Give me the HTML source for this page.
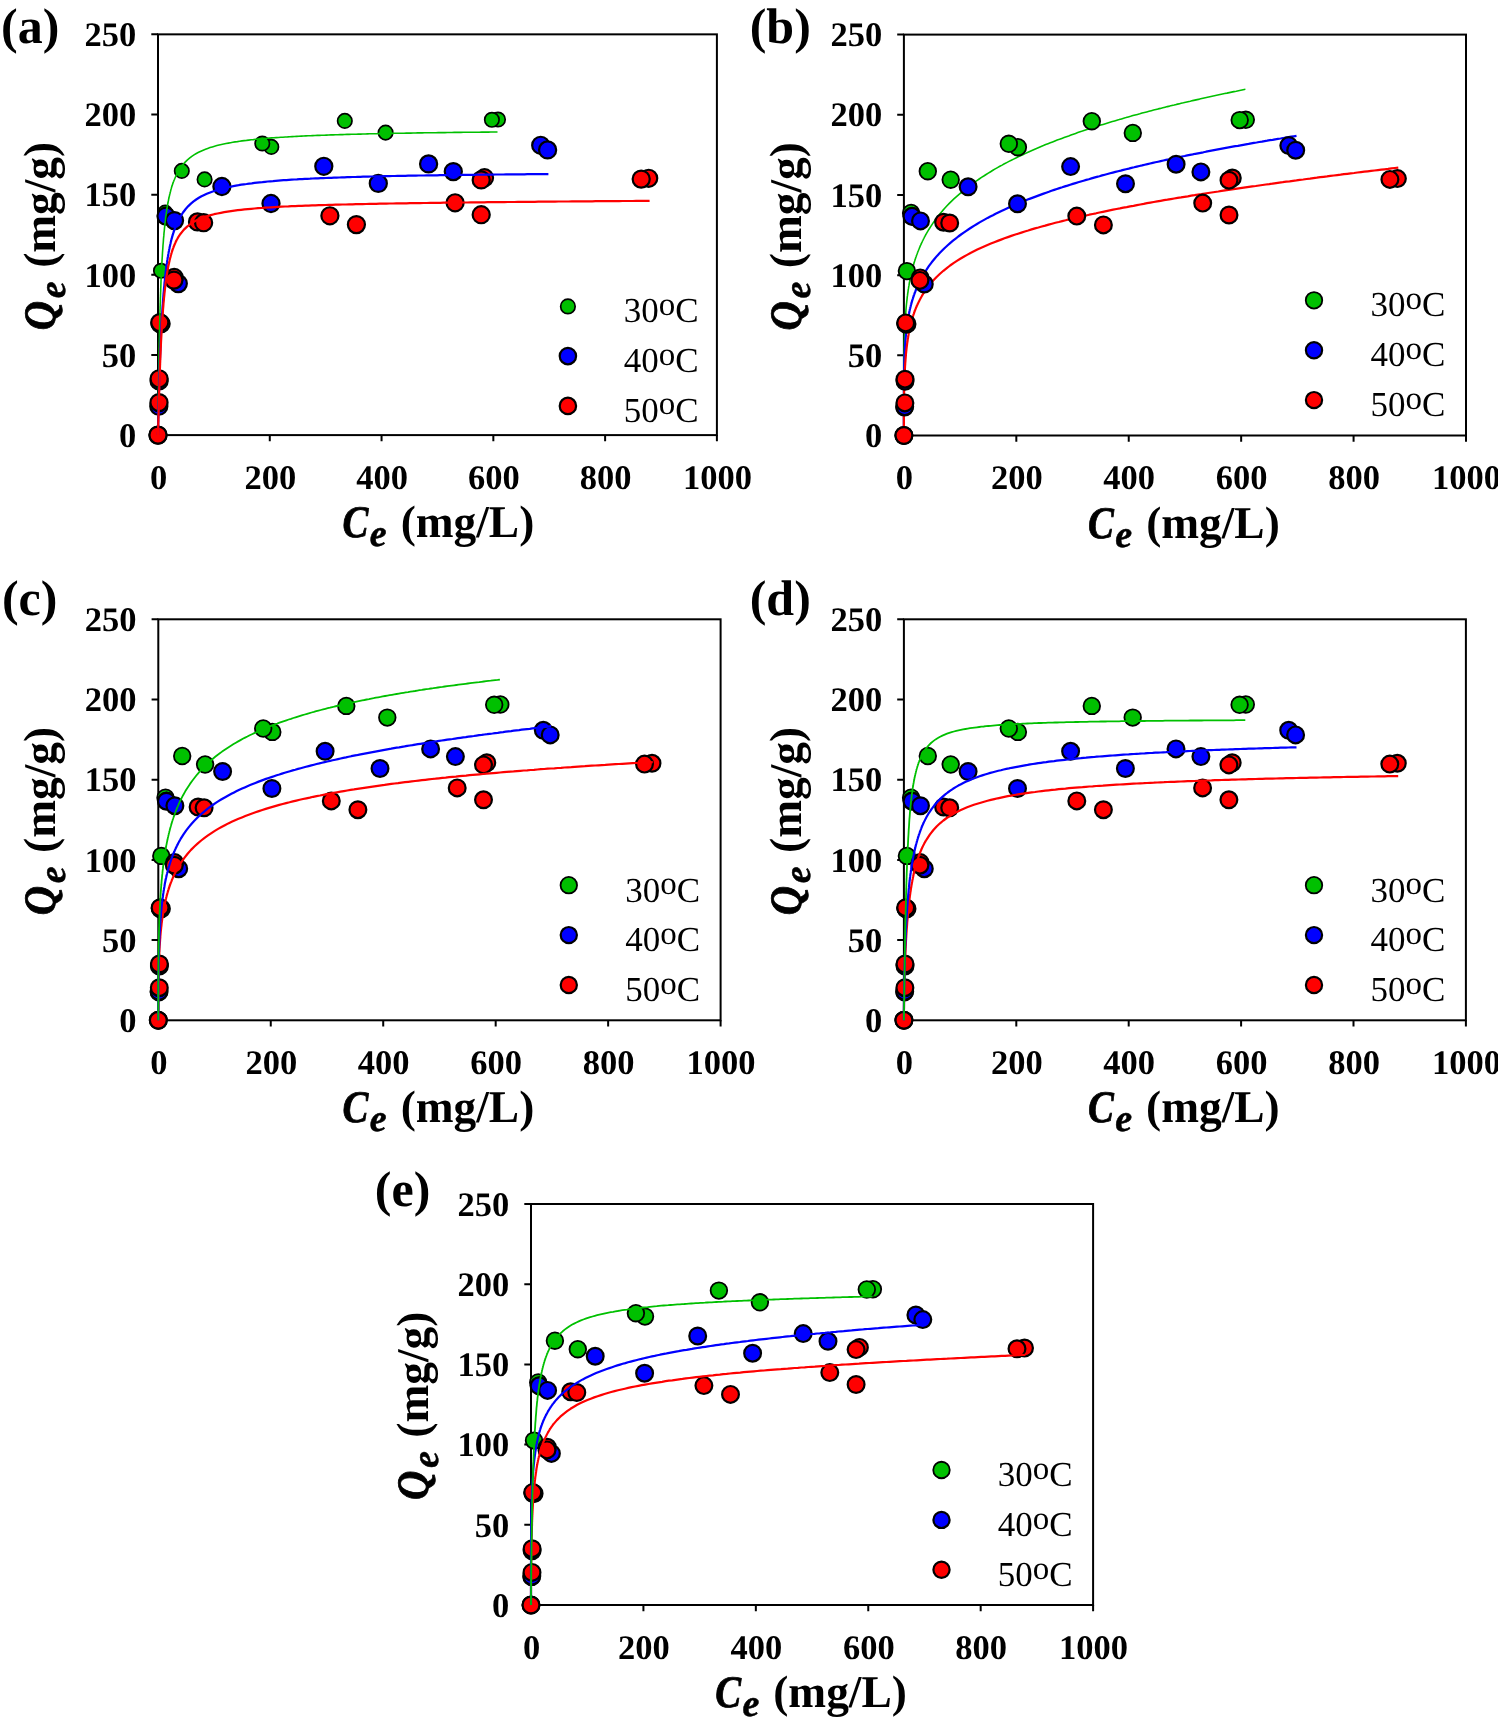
<!DOCTYPE html>
<html><head><meta charset="utf-8"><title>Isotherms</title>
<style>html,body{margin:0;padding:0;background:#fff;} svg{display:block;will-change:transform;}</style></head>
<body><svg width="1498" height="1720" viewBox="0 0 1498 1720" text-rendering="geometricPrecision">
<rect width="1498" height="1720" fill="#fff"/>
<rect x="158" y="34.35" width="558.9" height="400.75" fill="none" stroke="#000" stroke-width="2"/>
<path d="M151.3 435.1H158 M151.3 354.95H158 M151.3 274.8H158 M151.3 194.65H158 M151.3 114.5H158 M151.3 34.35H158 M158 435.1V441.3 M269.78 435.1V441.3 M381.56 435.1V441.3 M493.34 435.1V441.3 M605.12 435.1V441.3 M716.9 435.1V441.3" stroke="#000" stroke-width="2" fill="none"/>
<g font-family="&quot;Liberation Serif&quot;, serif" font-weight="bold" font-size="34.5"><text x="136.3" y="446.8" text-anchor="end">0</text><text x="136.3" y="366.65" text-anchor="end">50</text><text x="136.3" y="286.5" text-anchor="end">100</text><text x="136.3" y="206.35" text-anchor="end">150</text><text x="136.3" y="126.2" text-anchor="end">200</text><text x="136.3" y="46.05" text-anchor="end">250</text><text x="158.5" y="489" text-anchor="middle">0</text><text x="270.28" y="489" text-anchor="middle">200</text><text x="382.06" y="489" text-anchor="middle">400</text><text x="493.84" y="489" text-anchor="middle">600</text><text x="605.62" y="489" text-anchor="middle">800</text><text x="717.4" y="489" text-anchor="middle">1000</text></g>
<g font-family="&quot;Liberation Serif&quot;, serif" font-weight="bold"><text transform="translate(342.55,537.1) scale(0.86,1)" font-style="italic" font-size="45" stroke="#000" stroke-width="0.8">C</text><text x="369.85" y="546.1" font-style="italic" font-size="38" stroke="#000" stroke-width="0.5">e</text><text x="534.25" y="537.1" font-size="45.4" text-anchor="end">(mg/L)</text></g>
<g transform="translate(55,236.23) rotate(-90)" font-family="&quot;Liberation Serif&quot;, serif" font-weight="bold"><text transform="translate(-94,0) scale(0.9,1)" font-style="italic" font-size="45" stroke="#000" stroke-width="0.8">Q</text><text x="-62" y="9.5" font-style="italic" font-size="38" stroke="#000" stroke-width="0.5">e</text><text x="94.4" y="0" font-size="45.4" text-anchor="end">(mg/g)</text></g>
<text x="1.1" y="42.6" font-family="&quot;Liberation Serif&quot;, serif" font-weight="bold" font-size="50">(a)</text>
<circle cx="567.9" cy="306.4" r="7.25" fill="#00c000" stroke="#000" stroke-width="1.7"/>
<text x="698.6" y="322.1" text-anchor="end" font-family="&quot;Liberation Serif&quot;, serif" font-size="35">30<tspan font-size="33" dy="-7.3">o</tspan><tspan dy="7.3">C</tspan></text>
<circle cx="567.9" cy="356.1" r="8.2" fill="#0000ff" stroke="#000" stroke-width="2.2"/>
<text x="698.6" y="371.8" text-anchor="end" font-family="&quot;Liberation Serif&quot;, serif" font-size="35">40<tspan font-size="33" dy="-7.3">o</tspan><tspan dy="7.3">C</tspan></text>
<circle cx="567.9" cy="405.9" r="8.2" fill="#ff0000" stroke="#000" stroke-width="2.2"/>
<text x="698.6" y="421.6" text-anchor="end" font-family="&quot;Liberation Serif&quot;, serif" font-size="35">50<tspan font-size="33" dy="-7.3">o</tspan><tspan dy="7.3">C</tspan></text>
<circle cx="158.0" cy="435.1" r="7.2" fill="#00c000" stroke="#000" stroke-width="1.7"/>
<circle cx="158.6" cy="407.0" r="7.2" fill="#00c000" stroke="#000" stroke-width="1.7"/>
<circle cx="159.0" cy="379.8" r="7.2" fill="#00c000" stroke="#000" stroke-width="1.7"/>
<circle cx="159.7" cy="322.9" r="7.2" fill="#00c000" stroke="#000" stroke-width="1.7"/>
<circle cx="161.0" cy="270.8" r="7.2" fill="#00c000" stroke="#000" stroke-width="1.7"/>
<circle cx="165.2" cy="212.6" r="7.2" fill="#00c000" stroke="#000" stroke-width="1.7"/>
<circle cx="166.1" cy="215.6" r="7.2" fill="#00c000" stroke="#000" stroke-width="1.7"/>
<circle cx="181.8" cy="170.9" r="7.2" fill="#00c000" stroke="#000" stroke-width="1.7"/>
<circle cx="204.6" cy="179.4" r="7.2" fill="#00c000" stroke="#000" stroke-width="1.7"/>
<circle cx="271.3" cy="146.9" r="7.2" fill="#00c000" stroke="#000" stroke-width="1.7"/>
<circle cx="262.3" cy="143.5" r="7.2" fill="#00c000" stroke="#000" stroke-width="1.7"/>
<circle cx="344.8" cy="120.9" r="7.2" fill="#00c000" stroke="#000" stroke-width="1.7"/>
<circle cx="385.6" cy="132.6" r="7.2" fill="#00c000" stroke="#000" stroke-width="1.7"/>
<circle cx="498.0" cy="119.5" r="7.2" fill="#00c000" stroke="#000" stroke-width="1.7"/>
<circle cx="491.9" cy="119.8" r="7.2" fill="#00c000" stroke="#000" stroke-width="1.7"/>
<circle cx="158.0" cy="435.1" r="8.55" fill="#0000ff" stroke="#000" stroke-width="2.2"/>
<circle cx="158.8" cy="406.2" r="8.55" fill="#0000ff" stroke="#000" stroke-width="2.2"/>
<circle cx="159.1" cy="380.9" r="8.55" fill="#0000ff" stroke="#000" stroke-width="2.2"/>
<circle cx="160.0" cy="323.7" r="8.55" fill="#0000ff" stroke="#000" stroke-width="2.2"/>
<circle cx="166.0" cy="216.1" r="8.55" fill="#0000ff" stroke="#000" stroke-width="2.2"/>
<circle cx="174.5" cy="220.6" r="8.55" fill="#0000ff" stroke="#000" stroke-width="2.2"/>
<circle cx="178.3" cy="283.6" r="8.55" fill="#0000ff" stroke="#000" stroke-width="2.2"/>
<circle cx="221.9" cy="186.5" r="8.55" fill="#0000ff" stroke="#000" stroke-width="2.2"/>
<circle cx="271.0" cy="203.5" r="8.55" fill="#0000ff" stroke="#000" stroke-width="2.2"/>
<circle cx="323.8" cy="166.3" r="8.55" fill="#0000ff" stroke="#000" stroke-width="2.2"/>
<circle cx="378.3" cy="183.4" r="8.55" fill="#0000ff" stroke="#000" stroke-width="2.2"/>
<circle cx="428.6" cy="163.9" r="8.55" fill="#0000ff" stroke="#000" stroke-width="2.2"/>
<circle cx="453.3" cy="171.6" r="8.55" fill="#0000ff" stroke="#000" stroke-width="2.2"/>
<circle cx="540.7" cy="145.3" r="8.55" fill="#0000ff" stroke="#000" stroke-width="2.2"/>
<circle cx="547.6" cy="149.9" r="8.55" fill="#0000ff" stroke="#000" stroke-width="2.2"/>
<circle cx="158.0" cy="435.1" r="8.55" fill="#ff0000" stroke="#000" stroke-width="2.2"/>
<circle cx="159.0" cy="402.6" r="8.55" fill="#ff0000" stroke="#000" stroke-width="2.2"/>
<circle cx="159.1" cy="378.8" r="8.55" fill="#ff0000" stroke="#000" stroke-width="2.2"/>
<circle cx="161.1" cy="323.7" r="8.55" fill="#ff0000" stroke="#000" stroke-width="2.2"/>
<circle cx="159.8" cy="322.6" r="8.55" fill="#ff0000" stroke="#000" stroke-width="2.2"/>
<circle cx="174.2" cy="277.5" r="8.55" fill="#ff0000" stroke="#000" stroke-width="2.2"/>
<circle cx="173.9" cy="280.1" r="8.55" fill="#ff0000" stroke="#000" stroke-width="2.2"/>
<circle cx="197.5" cy="221.9" r="8.55" fill="#ff0000" stroke="#000" stroke-width="2.2"/>
<circle cx="203.6" cy="222.7" r="8.55" fill="#ff0000" stroke="#000" stroke-width="2.2"/>
<circle cx="329.9" cy="215.8" r="8.55" fill="#ff0000" stroke="#000" stroke-width="2.2"/>
<circle cx="356.4" cy="224.6" r="8.55" fill="#ff0000" stroke="#000" stroke-width="2.2"/>
<circle cx="455.1" cy="202.8" r="8.55" fill="#ff0000" stroke="#000" stroke-width="2.2"/>
<circle cx="481.2" cy="214.7" r="8.55" fill="#ff0000" stroke="#000" stroke-width="2.2"/>
<circle cx="484.5" cy="177.7" r="8.55" fill="#ff0000" stroke="#000" stroke-width="2.2"/>
<circle cx="481.2" cy="179.9" r="8.55" fill="#ff0000" stroke="#000" stroke-width="2.2"/>
<circle cx="648.7" cy="178.3" r="8.55" fill="#ff0000" stroke="#000" stroke-width="2.2"/>
<circle cx="641.2" cy="179.1" r="8.55" fill="#ff0000" stroke="#000" stroke-width="2.2"/>
<polyline points="158.0,435.1 158.0,429.4 158.1,424.2 158.1,419.3 158.2,414.7 158.2,410.2 158.3,406.0 158.3,401.9 158.4,397.9 158.4,394.0 158.5,390.3 158.5,386.8 158.6,383.3 158.6,379.9 158.7,376.6 158.7,373.4 158.8,370.4 158.8,367.4 158.9,364.4 158.9,361.6 158.9,358.8 159.0,356.1 159.0,353.5 159.1,350.9 159.1,348.4 159.2,346.0 159.2,343.6 159.3,341.3 159.3,339.0 159.4,336.8 159.4,334.6 159.5,332.5 159.5,330.4 159.6,328.4 159.6,326.4 159.7,324.4 159.7,322.5 159.8,320.6 159.8,318.8 159.8,317.0 159.9,315.3 159.9,313.5 160.0,311.9 160.0,310.2 160.1,308.6 160.1,307.0 160.2,305.4 160.2,303.9 160.3,302.4 160.3,300.9 160.4,299.4 160.4,298.0 160.5,296.6 160.5,295.2 160.6,293.8 160.6,292.5 160.7,291.2 160.7,289.9 160.7,288.6 160.8,287.4 160.8,287.4 161.0,281.2 161.3,275.5 161.5,270.2 161.8,265.3 162.0,260.7 162.3,256.5 162.5,252.5 162.8,248.8 163.0,245.2 163.3,242.0 163.5,238.8 163.8,235.9 164.0,233.1 164.3,230.5 164.5,228.0 164.8,225.6 165.0,223.3 165.3,221.2 165.5,219.1 165.7,217.2 166.0,215.3 166.2,213.5 166.5,211.8 166.7,210.1 167.0,208.5 167.2,207.0 167.5,205.5 167.7,204.1 168.0,202.8 168.2,201.5 168.5,200.2 168.7,199.0 169.0,197.8 169.2,196.7 169.5,195.6 169.7,194.5 170.0,193.5 170.2,192.5 170.5,191.5 170.7,190.6 170.9,189.7 171.2,188.8 171.4,188.0 171.7,187.1 171.9,186.3 172.2,185.6 172.4,184.8 172.7,184.1 172.9,183.3 173.2,182.6 173.4,181.9 173.7,181.3 173.9,180.6 174.2,180.0 174.4,179.4 174.7,178.8 174.9,178.2 175.2,177.6 175.4,177.1 175.7,176.5 175.9,176.0 176.1,175.5 176.4,174.9 176.6,174.4 176.9,174.0 177.1,173.5 177.4,173.0 177.6,172.6 177.9,172.1 178.1,171.7 178.4,171.2 178.6,170.8 178.9,170.4 179.1,170.0 179.4,169.6 179.6,169.2 179.9,168.8 180.1,168.5 180.4,168.1 180.4,168.1 182.6,165.0 184.9,162.4 187.2,160.1 189.5,158.2 191.8,156.4 194.0,154.9 196.3,153.5 198.6,152.3 200.9,151.2 203.2,150.2 205.5,149.2 207.7,148.4 210.0,147.6 212.3,146.9 214.6,146.2 216.9,145.6 219.1,145.0 221.4,144.5 223.7,144.0 226.0,143.5 228.3,143.1 230.6,142.7 232.8,142.3 235.1,141.9 237.4,141.6 239.7,141.2 242.0,140.9 244.2,140.6 246.5,140.4 248.8,140.1 251.1,139.8 253.4,139.6 255.7,139.3 257.9,139.1 260.2,138.9 262.5,138.7 264.8,138.5 267.1,138.3 269.3,138.1 271.6,137.9 273.9,137.8 276.2,137.6 278.5,137.5 280.8,137.3 283.0,137.2 285.3,137.0 287.6,136.9 289.9,136.7 292.2,136.6 294.4,136.5 296.7,136.4 299.0,136.3 301.3,136.1 303.6,136.0 305.9,135.9 308.1,135.8 310.4,135.7 312.7,135.6 315.0,135.5 317.3,135.4 319.5,135.4 321.8,135.3 324.1,135.2 326.4,135.1 328.7,135.0 331.0,134.9 333.2,134.9 335.5,134.8 337.8,134.7 340.1,134.6 342.4,134.6 344.6,134.5 346.9,134.4 349.2,134.4 351.5,134.3 353.8,134.2 356.1,134.2 358.3,134.1 360.6,134.1 362.9,134.0 365.2,134.0 367.5,133.9 369.7,133.8 372.0,133.8 374.3,133.7 376.6,133.7 378.9,133.6 381.2,133.6 383.4,133.6 385.7,133.5 388.0,133.5 390.3,133.4 392.6,133.4 394.8,133.3 397.1,133.3 399.4,133.2 401.7,133.2 404.0,133.2 406.3,133.1 408.5,133.1 410.8,133.1 413.1,133.0 415.4,133.0 417.7,132.9 419.9,132.9 422.2,132.9 424.5,132.8 426.8,132.8 429.1,132.8 431.4,132.7 433.6,132.7 435.9,132.7 438.2,132.6 440.5,132.6 442.8,132.6 445.0,132.6 447.3,132.5 449.6,132.5 451.9,132.5 454.2,132.4 456.5,132.4 458.7,132.4 461.0,132.4 463.3,132.3 465.6,132.3 467.9,132.3 470.1,132.3 472.4,132.2 474.7,132.2 477.0,132.2 479.3,132.2 481.6,132.1 483.8,132.1 486.1,132.1 488.4,132.1 490.7,132.0 493.0,132.0 495.2,132.0 497.5,132.0" fill="none" stroke="#00c000" stroke-width="1.6" stroke-linejoin="round"/>
<polyline points="158.0,435.1 158.0,432.8 158.1,430.4 158.1,428.1 158.2,425.8 158.2,423.5 158.3,421.3 158.3,419.1 158.4,416.9 158.4,414.7 158.5,412.6 158.5,410.5 158.6,408.4 158.6,406.4 158.7,404.4 158.7,402.5 158.8,400.5 158.8,398.6 158.9,396.7 158.9,394.9 158.9,393.1 159.0,391.3 159.0,389.5 159.1,387.8 159.1,386.1 159.2,384.4 159.2,382.7 159.3,381.1 159.3,379.4 159.4,377.9 159.4,376.3 159.5,374.7 159.5,373.2 159.6,371.7 159.6,370.2 159.7,368.8 159.7,367.3 159.8,365.9 159.8,364.5 159.8,363.1 159.9,361.8 159.9,360.4 160.0,359.1 160.0,357.8 160.1,356.5 160.1,355.2 160.2,354.0 160.2,352.7 160.3,351.5 160.3,350.3 160.4,349.1 160.4,347.9 160.5,346.7 160.5,345.6 160.6,344.5 160.6,343.3 160.7,342.2 160.7,341.1 160.7,340.1 160.8,339.0 160.8,339.0 161.0,333.6 161.3,328.6 161.5,323.8 161.8,319.4 162.0,315.1 162.3,311.1 162.5,307.4 162.8,303.8 163.0,300.4 163.3,297.1 163.5,294.0 163.8,291.1 164.0,288.3 164.3,285.6 164.5,283.0 164.8,280.6 165.0,278.2 165.3,276.0 165.5,273.8 165.7,271.7 166.0,269.7 166.2,267.8 166.5,266.0 166.7,264.2 167.0,262.5 167.2,260.8 167.5,259.2 167.7,257.7 168.0,256.2 168.2,254.8 168.5,253.4 168.7,252.0 169.0,250.7 169.2,249.5 169.5,248.2 169.7,247.0 170.0,245.9 170.2,244.8 170.5,243.7 170.7,242.6 170.9,241.6 171.2,240.6 171.4,239.6 171.7,238.7 171.9,237.8 172.2,236.9 172.4,236.0 172.7,235.2 172.9,234.3 173.2,233.5 173.4,232.8 173.7,232.0 173.9,231.2 174.2,230.5 174.4,229.8 174.7,229.1 174.9,228.4 175.2,227.8 175.4,227.1 175.7,226.5 175.9,225.9 176.1,225.3 176.4,224.7 176.6,224.1 176.9,223.5 177.1,223.0 177.4,222.4 177.6,221.9 177.9,221.4 178.1,220.8 178.4,220.3 178.6,219.8 178.9,219.4 179.1,218.9 179.4,218.4 179.6,218.0 179.9,217.5 180.1,217.1 180.4,216.7 180.4,216.7 183.0,212.5 185.7,209.0 188.3,206.1 190.9,203.6 193.6,201.4 196.2,199.5 198.9,197.8 201.5,196.3 204.2,195.0 206.8,193.8 209.5,192.7 212.1,191.7 214.8,190.8 217.4,189.9 220.1,189.2 222.7,188.5 225.4,187.8 228.0,187.2 230.7,186.7 233.3,186.1 236.0,185.6 238.6,185.2 241.3,184.7 243.9,184.3 246.5,184.0 249.2,183.6 251.8,183.3 254.5,182.9 257.1,182.6 259.8,182.3 262.4,182.1 265.1,181.8 267.7,181.5 270.4,181.3 273.0,181.1 275.7,180.8 278.3,180.6 281.0,180.4 283.6,180.2 286.3,180.1 288.9,179.9 291.6,179.7 294.2,179.5 296.9,179.4 299.5,179.2 302.2,179.1 304.8,178.9 307.4,178.8 310.1,178.7 312.7,178.5 315.4,178.4 318.0,178.3 320.7,178.2 323.3,178.1 326.0,178.0 328.6,177.9 331.3,177.8 333.9,177.7 336.6,177.6 339.2,177.5 341.9,177.4 344.5,177.3 347.2,177.2 349.8,177.1 352.5,177.0 355.1,177.0 357.8,176.9 360.4,176.8 363.0,176.7 365.7,176.7 368.3,176.6 371.0,176.5 373.6,176.5 376.3,176.4 378.9,176.3 381.6,176.3 384.2,176.2 386.9,176.2 389.5,176.1 392.2,176.0 394.8,176.0 397.5,175.9 400.1,175.9 402.8,175.8 405.4,175.8 408.1,175.7 410.7,175.7 413.4,175.6 416.0,175.6 418.7,175.5 421.3,175.5 423.9,175.5 426.6,175.4 429.2,175.4 431.9,175.3 434.5,175.3 437.2,175.3 439.8,175.2 442.5,175.2 445.1,175.1 447.8,175.1 450.4,175.1 453.1,175.0 455.7,175.0 458.4,175.0 461.0,174.9 463.7,174.9 466.3,174.9 469.0,174.8 471.6,174.8 474.3,174.8 476.9,174.7 479.6,174.7 482.2,174.7 484.8,174.7 487.5,174.6 490.1,174.6 492.8,174.6 495.4,174.5 498.1,174.5 500.7,174.5 503.4,174.5 506.0,174.4 508.7,174.4 511.3,174.4 514.0,174.4 516.6,174.3 519.3,174.3 521.9,174.3 524.6,174.3 527.2,174.2 529.9,174.2 532.5,174.2 535.2,174.2 537.8,174.2 540.4,174.1 543.1,174.1 545.7,174.1 548.4,174.1" fill="none" stroke="#0000ff" stroke-width="2.2" stroke-linejoin="round"/>
<polyline points="158.0,435.1 158.0,433.7 158.1,432.0 158.1,430.3 158.2,428.5 158.2,426.7 158.3,424.8 158.3,423.0 158.4,421.1 158.4,419.3 158.5,417.5 158.5,415.6 158.6,413.8 158.6,412.0 158.7,410.2 158.7,408.4 158.8,406.7 158.8,404.9 158.9,403.2 158.9,401.5 158.9,399.8 159.0,398.1 159.0,396.5 159.1,394.8 159.1,393.2 159.2,391.6 159.2,390.0 159.3,388.4 159.3,386.9 159.4,385.4 159.4,383.9 159.5,382.4 159.5,380.9 159.6,379.5 159.6,378.0 159.7,376.6 159.7,375.2 159.8,373.8 159.8,372.5 159.8,371.1 159.9,369.8 159.9,368.5 160.0,367.2 160.0,365.9 160.1,364.6 160.1,363.4 160.2,362.1 160.2,360.9 160.3,359.7 160.3,358.5 160.4,357.4 160.4,356.2 160.5,355.0 160.5,353.9 160.6,352.8 160.6,351.7 160.7,350.6 160.7,349.5 160.7,348.5 160.8,347.4 160.8,347.4 161.0,342.1 161.3,337.2 161.5,332.5 161.8,328.1 162.0,324.0 162.3,320.1 162.5,316.4 162.8,312.9 163.0,309.6 163.3,306.5 163.5,303.5 163.8,300.7 164.0,298.0 164.3,295.4 164.5,293.0 164.8,290.7 165.0,288.5 165.3,286.4 165.5,284.3 165.7,282.4 166.0,280.5 166.2,278.8 166.5,277.1 166.7,275.4 167.0,273.8 167.2,272.3 167.5,270.9 167.7,269.5 168.0,268.1 168.2,266.8 168.5,265.6 168.7,264.4 169.0,263.2 169.2,262.1 169.5,261.0 169.7,259.9 170.0,258.9 170.2,257.9 170.5,257.0 170.7,256.0 170.9,255.1 171.2,254.3 171.4,253.4 171.7,252.6 171.9,251.8 172.2,251.0 172.4,250.3 172.7,249.5 172.9,248.8 173.2,248.1 173.4,247.5 173.7,246.8 173.9,246.2 174.2,245.6 174.4,244.9 174.7,244.4 174.9,243.8 175.2,243.2 175.4,242.7 175.7,242.1 175.9,241.6 176.1,241.1 176.4,240.6 176.6,240.1 176.9,239.7 177.1,239.2 177.4,238.7 177.6,238.3 177.9,237.9 178.1,237.4 178.4,237.0 178.6,236.6 178.9,236.2 179.1,235.8 179.4,235.5 179.6,235.1 179.9,234.7 180.1,234.4 180.4,234.0 180.4,234.0 183.7,229.9 187.1,226.6 190.5,224.0 193.9,221.8 197.2,220.0 200.6,218.5 204.0,217.2 207.4,216.1 210.7,215.1 214.1,214.2 217.5,213.5 220.9,212.8 224.2,212.2 227.6,211.6 231.0,211.1 234.4,210.6 237.7,210.2 241.1,209.8 244.5,209.4 247.9,209.1 251.2,208.8 254.6,208.5 258.0,208.2 261.4,208.0 264.7,207.7 268.1,207.5 271.5,207.3 274.9,207.1 278.2,206.9 281.6,206.7 285.0,206.5 288.4,206.4 291.7,206.2 295.1,206.1 298.5,205.9 301.9,205.8 305.3,205.7 308.6,205.6 312.0,205.4 315.4,205.3 318.8,205.2 322.1,205.1 325.5,205.0 328.9,204.9 332.3,204.8 335.6,204.7 339.0,204.6 342.4,204.5 345.8,204.5 349.1,204.4 352.5,204.3 355.9,204.2 359.3,204.1 362.6,204.1 366.0,204.0 369.4,203.9 372.8,203.9 376.1,203.8 379.5,203.7 382.9,203.7 386.3,203.6 389.6,203.5 393.0,203.5 396.4,203.4 399.8,203.4 403.1,203.3 406.5,203.3 409.9,203.2 413.3,203.2 416.6,203.1 420.0,203.1 423.4,203.0 426.8,203.0 430.1,202.9 433.5,202.9 436.9,202.8 440.3,202.8 443.6,202.7 447.0,202.7 450.4,202.7 453.8,202.6 457.1,202.6 460.5,202.5 463.9,202.5 467.3,202.5 470.7,202.4 474.0,202.4 477.4,202.3 480.8,202.3 484.2,202.3 487.5,202.2 490.9,202.2 494.3,202.2 497.7,202.1 501.0,202.1 504.4,202.1 507.8,202.0 511.2,202.0 514.5,202.0 517.9,201.9 521.3,201.9 524.7,201.9 528.0,201.8 531.4,201.8 534.8,201.8 538.2,201.7 541.5,201.7 544.9,201.7 548.3,201.6 551.7,201.6 555.0,201.6 558.4,201.5 561.8,201.5 565.2,201.5 568.5,201.5 571.9,201.4 575.3,201.4 578.7,201.4 582.0,201.3 585.4,201.3 588.8,201.3 592.2,201.3 595.5,201.2 598.9,201.2 602.3,201.2 605.7,201.2 609.0,201.1 612.4,201.1 615.8,201.1 619.2,201.1 622.5,201.0 625.9,201.0 629.3,201.0 632.7,201.0 636.1,200.9 639.4,200.9 642.8,200.9 646.2,200.9 649.6,200.8" fill="none" stroke="#ff0000" stroke-width="2.2" stroke-linejoin="round"/>
<rect x="903.9" y="34.6" width="562.1" height="400.9" fill="none" stroke="#000" stroke-width="2"/>
<path d="M897.2 435.5H903.9 M897.2 355.32H903.9 M897.2 275.14H903.9 M897.2 194.96H903.9 M897.2 114.78H903.9 M897.2 34.6H903.9 M903.9 435.5V441.7 M1016.32 435.5V441.7 M1128.74 435.5V441.7 M1241.16 435.5V441.7 M1353.58 435.5V441.7 M1466 435.5V441.7" stroke="#000" stroke-width="2" fill="none"/>
<g font-family="&quot;Liberation Serif&quot;, serif" font-weight="bold" font-size="34.5"><text x="882.2" y="447.2" text-anchor="end">0</text><text x="882.2" y="367.02" text-anchor="end">50</text><text x="882.2" y="286.84" text-anchor="end">100</text><text x="882.2" y="206.66" text-anchor="end">150</text><text x="882.2" y="126.48" text-anchor="end">200</text><text x="882.2" y="46.3" text-anchor="end">250</text><text x="904.4" y="489.4" text-anchor="middle">0</text><text x="1016.82" y="489.4" text-anchor="middle">200</text><text x="1129.24" y="489.4" text-anchor="middle">400</text><text x="1241.66" y="489.4" text-anchor="middle">600</text><text x="1354.08" y="489.4" text-anchor="middle">800</text><text x="1466.5" y="489.4" text-anchor="middle">1000</text></g>
<g font-family="&quot;Liberation Serif&quot;, serif" font-weight="bold"><text transform="translate(1088.05,537.5) scale(0.86,1)" font-style="italic" font-size="45" stroke="#000" stroke-width="0.8">C</text><text x="1115.35" y="546.5" font-style="italic" font-size="38" stroke="#000" stroke-width="0.5">e</text><text x="1279.75" y="537.5" font-size="45.4" text-anchor="end">(mg/L)</text></g>
<g transform="translate(800.9,236.55) rotate(-90)" font-family="&quot;Liberation Serif&quot;, serif" font-weight="bold"><text transform="translate(-94,0) scale(0.9,1)" font-style="italic" font-size="45" stroke="#000" stroke-width="0.8">Q</text><text x="-62" y="9.5" font-style="italic" font-size="38" stroke="#000" stroke-width="0.5">e</text><text x="94.4" y="0" font-size="45.4" text-anchor="end">(mg/g)</text></g>
<text x="749.7" y="43.3" font-family="&quot;Liberation Serif&quot;, serif" font-weight="bold" font-size="50">(b)</text>
<circle cx="1314" cy="300.3" r="8.25" fill="#00c000" stroke="#000" stroke-width="1.8"/>
<text x="1445.4" y="316.3" text-anchor="end" font-family="&quot;Liberation Serif&quot;, serif" font-size="35">30<tspan font-size="33" dy="-7.3">o</tspan><tspan dy="7.3">C</tspan></text>
<circle cx="1314" cy="350.3" r="8.1" fill="#0000ff" stroke="#000" stroke-width="2.2"/>
<text x="1445.4" y="366.3" text-anchor="end" font-family="&quot;Liberation Serif&quot;, serif" font-size="35">40<tspan font-size="33" dy="-7.3">o</tspan><tspan dy="7.3">C</tspan></text>
<circle cx="1314" cy="400.1" r="8.1" fill="#ff0000" stroke="#000" stroke-width="2.2"/>
<text x="1445.4" y="416.1" text-anchor="end" font-family="&quot;Liberation Serif&quot;, serif" font-size="35">50<tspan font-size="33" dy="-7.3">o</tspan><tspan dy="7.3">C</tspan></text>
<polyline points="903.9,435.1 903.9,376.0 904.0,367.2 904.0,361.5 904.1,357.1 904.1,353.6 904.2,350.6 904.2,347.9 904.3,345.6 904.3,343.4 904.4,341.5 904.4,339.7 904.5,338.0 904.5,336.5 904.6,335.0 904.6,333.6 904.7,332.3 904.7,331.1 904.8,329.9 904.8,328.7 904.9,327.6 904.9,326.6 904.9,325.6 905.0,324.6 905.0,323.7 905.1,322.8 905.1,321.9 905.2,321.0 905.2,320.2 905.3,319.4 905.3,318.6 905.4,317.9 905.4,317.1 905.5,316.4 905.5,315.7 905.6,315.0 905.6,314.3 905.7,313.7 905.7,313.0 905.8,312.4 905.8,311.8 905.9,311.1 905.9,310.6 905.9,310.0 906.0,309.4 906.0,308.8 906.1,308.3 906.1,307.7 906.2,307.2 906.2,306.7 906.3,306.2 906.3,305.6 906.4,305.1 906.4,304.7 906.5,304.2 906.5,303.7 906.6,303.2 906.6,302.8 906.7,302.3 906.7,301.8 906.7,301.8 907.0,299.6 907.2,297.4 907.5,295.4 907.7,293.6 908.0,291.8 908.2,290.0 908.5,288.4 908.7,286.9 909.0,285.4 909.2,283.9 909.4,282.5 909.7,281.2 909.9,279.9 910.2,278.7 910.4,277.4 910.7,276.3 910.9,275.1 911.2,274.0 911.4,272.9 911.7,271.9 911.9,270.9 912.2,269.9 912.4,268.9 912.7,267.9 912.9,267.0 913.2,266.1 913.4,265.2 913.7,264.3 913.9,263.5 914.2,262.6 914.4,261.8 914.7,261.0 914.9,260.2 915.2,259.4 915.4,258.7 915.7,257.9 915.9,257.2 916.2,256.5 916.4,255.7 916.7,255.0 916.9,254.4 917.2,253.7 917.4,253.0 917.7,252.3 917.9,251.7 918.2,251.0 918.4,250.4 918.7,249.8 918.9,249.2 919.2,248.6 919.4,248.0 919.7,247.4 919.9,246.8 920.2,246.2 920.4,245.6 920.7,245.1 920.9,244.5 921.2,244.0 921.4,243.4 921.7,242.9 921.9,242.3 922.2,241.8 922.4,241.3 922.6,240.8 922.9,240.3 923.1,239.8 923.4,239.3 923.6,238.8 923.9,238.3 924.1,237.8 924.4,237.3 924.6,236.8 924.9,236.4 925.1,235.9 925.4,235.4 925.6,235.0 925.9,234.5 926.1,234.1 926.4,233.6 926.4,233.6 928.7,229.7 931.0,226.1 933.3,222.6 935.6,219.4 937.9,216.4 940.2,213.6 942.4,210.9 944.7,208.3 947.0,205.8 949.3,203.4 951.6,201.1 953.9,198.9 956.2,196.8 958.5,194.8 960.8,192.8 963.1,190.9 965.4,189.1 967.7,187.3 970.0,185.5 972.3,183.8 974.6,182.2 976.9,180.6 979.2,179.0 981.5,177.4 983.8,176.0 986.1,174.5 988.3,173.1 990.6,171.7 992.9,170.3 995.2,168.9 997.5,167.6 999.8,166.3 1002.1,165.1 1004.4,163.8 1006.7,162.6 1009.0,161.4 1011.3,160.2 1013.6,159.1 1015.9,158.0 1018.2,156.8 1020.5,155.7 1022.8,154.7 1025.1,153.6 1027.4,152.5 1029.7,151.5 1031.9,150.5 1034.2,149.5 1036.5,148.5 1038.8,147.5 1041.1,146.5 1043.4,145.6 1045.7,144.6 1048.0,143.7 1050.3,142.8 1052.6,141.9 1054.9,141.0 1057.2,140.1 1059.5,139.3 1061.8,138.4 1064.1,137.5 1066.4,136.7 1068.7,135.9 1071.0,135.0 1073.3,134.2 1075.6,133.4 1077.8,132.6 1080.1,131.8 1082.4,131.1 1084.7,130.3 1087.0,129.5 1089.3,128.8 1091.6,128.0 1093.9,127.3 1096.2,126.5 1098.5,125.8 1100.8,125.1 1103.1,124.4 1105.4,123.7 1107.7,123.0 1110.0,122.3 1112.3,121.6 1114.6,120.9 1116.9,120.2 1119.2,119.6 1121.5,118.9 1123.7,118.2 1126.0,117.6 1128.3,116.9 1130.6,116.3 1132.9,115.6 1135.2,115.0 1137.5,114.4 1139.8,113.8 1142.1,113.1 1144.4,112.5 1146.7,111.9 1149.0,111.3 1151.3,110.7 1153.6,110.1 1155.9,109.5 1158.2,108.9 1160.5,108.4 1162.8,107.8 1165.1,107.2 1167.3,106.6 1169.6,106.1 1171.9,105.5 1174.2,105.0 1176.5,104.4 1178.8,103.9 1181.1,103.3 1183.4,102.8 1185.7,102.2 1188.0,101.7 1190.3,101.2 1192.6,100.6 1194.9,100.1 1197.2,99.6 1199.5,99.1 1201.8,98.5 1204.1,98.0 1206.4,97.5 1208.7,97.0 1211.0,96.5 1213.2,96.0 1215.5,95.5 1217.8,95.0 1220.1,94.5 1222.4,94.0 1224.7,93.5 1227.0,93.1 1229.3,92.6 1231.6,92.1 1233.9,91.6 1236.2,91.2 1238.5,90.7 1240.8,90.2 1243.1,89.7 1245.4,89.3" fill="none" stroke="#00c000" stroke-width="1.6" stroke-linejoin="round"/>
<polyline points="903.9,435.2 903.9,389.2 904.0,382.1 904.0,377.4 904.1,373.8 904.1,370.9 904.2,368.4 904.2,366.2 904.3,364.3 904.3,362.5 904.4,360.9 904.4,359.4 904.5,358.0 904.5,356.8 904.6,355.5 904.6,354.4 904.7,353.3 904.7,352.3 904.8,351.3 904.8,350.3 904.9,349.4 904.9,348.5 904.9,347.7 905.0,346.9 905.0,346.1 905.1,345.3 905.1,344.6 905.2,343.9 905.2,343.2 905.3,342.5 905.3,341.9 905.4,341.2 905.4,340.6 905.5,340.0 905.5,339.4 905.6,338.8 905.6,338.3 905.7,337.7 905.7,337.2 905.8,336.6 905.8,336.1 905.9,335.6 905.9,335.1 905.9,334.6 906.0,334.1 906.0,333.7 906.1,333.2 906.1,332.7 906.2,332.3 906.2,331.8 906.3,331.4 906.3,331.0 906.4,330.6 906.4,330.1 906.5,329.7 906.5,329.3 906.6,328.9 906.6,328.5 906.7,328.2 906.7,327.8 906.7,327.8 907.0,325.9 907.2,324.1 907.5,322.4 907.7,320.8 908.0,319.3 908.2,317.8 908.5,316.5 908.7,315.1 909.0,313.9 909.2,312.7 909.4,311.5 909.7,310.3 909.9,309.3 910.2,308.2 910.4,307.2 910.7,306.2 910.9,305.2 911.2,304.3 911.4,303.3 911.7,302.5 911.9,301.6 912.2,300.7 912.4,299.9 912.7,299.1 912.9,298.3 913.2,297.5 913.4,296.8 913.7,296.0 913.9,295.3 914.2,294.6 914.4,293.9 914.7,293.2 914.9,292.5 915.2,291.9 915.4,291.2 915.7,290.6 915.9,289.9 916.2,289.3 916.4,288.7 916.7,288.1 916.9,287.5 917.2,286.9 917.4,286.4 917.7,285.8 917.9,285.3 918.2,284.7 918.4,284.2 918.7,283.6 918.9,283.1 919.2,282.6 919.4,282.1 919.7,281.6 919.9,281.1 920.2,280.6 920.4,280.1 920.7,279.6 920.9,279.1 921.2,278.6 921.4,278.2 921.7,277.7 921.9,277.3 922.2,276.8 922.4,276.4 922.6,275.9 922.9,275.5 923.1,275.1 923.4,274.6 923.6,274.2 923.9,273.8 924.1,273.4 924.4,273.0 924.6,272.6 924.9,272.1 925.1,271.7 925.4,271.4 925.6,271.0 925.9,270.6 926.1,270.2 926.4,269.8 926.4,269.8 929.0,265.9 931.7,262.3 934.4,259.0 937.0,255.9 939.7,253.1 942.4,250.3 945.0,247.7 947.7,245.3 950.4,242.9 953.0,240.7 955.7,238.6 958.3,236.5 961.0,234.5 963.7,232.6 966.3,230.8 969.0,229.0 971.7,227.3 974.3,225.6 977.0,224.0 979.6,222.4 982.3,220.9 985.0,219.4 987.6,217.9 990.3,216.5 993.0,215.2 995.6,213.8 998.3,212.5 1000.9,211.2 1003.6,209.9 1006.3,208.7 1008.9,207.5 1011.6,206.3 1014.3,205.1 1016.9,204.0 1019.6,202.9 1022.2,201.8 1024.9,200.7 1027.6,199.6 1030.2,198.6 1032.9,197.6 1035.6,196.6 1038.2,195.6 1040.9,194.6 1043.6,193.6 1046.2,192.7 1048.9,191.8 1051.5,190.8 1054.2,189.9 1056.9,189.0 1059.5,188.1 1062.2,187.3 1064.9,186.4 1067.5,185.6 1070.2,184.7 1072.8,183.9 1075.5,183.1 1078.2,182.3 1080.8,181.5 1083.5,180.7 1086.2,179.9 1088.8,179.2 1091.5,178.4 1094.1,177.6 1096.8,176.9 1099.5,176.2 1102.1,175.4 1104.8,174.7 1107.5,174.0 1110.1,173.3 1112.8,172.6 1115.4,171.9 1118.1,171.2 1120.8,170.6 1123.4,169.9 1126.1,169.2 1128.8,168.6 1131.4,167.9 1134.1,167.3 1136.8,166.6 1139.4,166.0 1142.1,165.4 1144.7,164.7 1147.4,164.1 1150.1,163.5 1152.7,162.9 1155.4,162.3 1158.1,161.7 1160.7,161.1 1163.4,160.5 1166.0,159.9 1168.7,159.4 1171.4,158.8 1174.0,158.2 1176.7,157.7 1179.4,157.1 1182.0,156.5 1184.7,156.0 1187.3,155.4 1190.0,154.9 1192.7,154.4 1195.3,153.8 1198.0,153.3 1200.7,152.8 1203.3,152.3 1206.0,151.7 1208.7,151.2 1211.3,150.7 1214.0,150.2 1216.6,149.7 1219.3,149.2 1222.0,148.7 1224.6,148.2 1227.3,147.7 1230.0,147.2 1232.6,146.7 1235.3,146.2 1237.9,145.8 1240.6,145.3 1243.3,144.8 1245.9,144.3 1248.6,143.9 1251.3,143.4 1253.9,142.9 1256.6,142.5 1259.2,142.0 1261.9,141.6 1264.6,141.1 1267.2,140.7 1269.9,140.2 1272.6,139.8 1275.2,139.3 1277.9,138.9 1280.5,138.5 1283.2,138.0 1285.9,137.6 1288.5,137.2 1291.2,136.7 1293.9,136.3 1296.5,135.9" fill="none" stroke="#0000ff" stroke-width="2.2" stroke-linejoin="round"/>
<polyline points="903.9,435.5 903.9,410.4 904.0,403.8 904.0,399.3 904.1,395.8 904.1,392.9 904.2,390.4 904.2,388.1 904.3,386.1 904.3,384.3 904.4,382.6 904.4,381.0 904.5,379.5 904.5,378.2 904.6,376.9 904.6,375.6 904.7,374.5 904.7,373.4 904.8,372.3 904.8,371.3 904.9,370.3 904.9,369.4 904.9,368.5 905.0,367.6 905.0,366.7 905.1,365.9 905.1,365.1 905.2,364.4 905.2,363.6 905.3,362.9 905.3,362.2 905.4,361.5 905.4,360.8 905.5,360.2 905.5,359.5 905.6,358.9 905.6,358.3 905.7,357.7 905.7,357.1 905.8,356.5 905.8,356.0 905.9,355.4 905.9,354.9 905.9,354.4 906.0,353.8 906.0,353.3 906.1,352.8 906.1,352.3 906.2,351.9 906.2,351.4 906.3,350.9 906.3,350.5 906.4,350.0 906.4,349.6 906.5,349.1 906.5,348.7 906.6,348.3 906.6,347.9 906.7,347.4 906.7,347.0 906.7,347.0 907.0,345.0 907.2,343.1 907.5,341.3 907.7,339.6 908.0,338.0 908.2,336.5 908.5,335.0 908.7,333.6 909.0,332.3 909.2,331.0 909.4,329.8 909.7,328.7 909.9,327.5 910.2,326.4 910.4,325.4 910.7,324.3 910.9,323.4 911.2,322.4 911.4,321.5 911.7,320.6 911.9,319.7 912.2,318.8 912.4,318.0 912.7,317.2 912.9,316.4 913.2,315.6 913.4,314.8 913.7,314.1 913.9,313.4 914.2,312.7 914.4,312.0 914.7,311.3 914.9,310.6 915.2,310.0 915.4,309.3 915.7,308.7 915.9,308.1 916.2,307.5 916.4,306.9 916.7,306.3 916.9,305.7 917.2,305.2 917.4,304.6 917.7,304.1 917.9,303.5 918.2,303.0 918.4,302.5 918.7,302.0 918.9,301.5 919.2,301.0 919.4,300.5 919.7,300.0 919.9,299.5 920.2,299.0 920.4,298.6 920.7,298.1 920.9,297.7 921.2,297.2 921.4,296.8 921.7,296.3 921.9,295.9 922.2,295.5 922.4,295.1 922.6,294.7 922.9,294.3 923.1,293.8 923.4,293.4 923.6,293.1 923.9,292.7 924.1,292.3 924.4,291.9 924.6,291.5 924.9,291.1 925.1,290.8 925.4,290.4 925.6,290.1 925.9,289.7 926.1,289.3 926.4,289.0 926.4,289.0 929.8,284.5 933.2,280.6 936.6,277.0 940.0,273.8 943.4,270.8 946.8,268.1 950.1,265.5 953.5,263.1 956.9,260.9 960.3,258.8 963.7,256.8 967.1,254.9 970.5,253.0 973.9,251.3 977.3,249.6 980.7,248.0 984.1,246.5 987.5,245.0 990.9,243.6 994.3,242.2 997.7,240.9 1001.1,239.6 1004.5,238.3 1007.9,237.1 1011.3,235.9 1014.6,234.8 1018.0,233.7 1021.4,232.6 1024.8,231.5 1028.2,230.5 1031.6,229.4 1035.0,228.4 1038.4,227.5 1041.8,226.5 1045.2,225.6 1048.6,224.6 1052.0,223.7 1055.4,222.8 1058.8,222.0 1062.2,221.1 1065.6,220.3 1069.0,219.4 1072.4,218.6 1075.8,217.8 1079.2,217.0 1082.5,216.3 1085.9,215.5 1089.3,214.7 1092.7,214.0 1096.1,213.3 1099.5,212.5 1102.9,211.8 1106.3,211.1 1109.7,210.4 1113.1,209.7 1116.5,209.0 1119.9,208.4 1123.3,207.7 1126.7,207.1 1130.1,206.4 1133.5,205.8 1136.9,205.1 1140.3,204.5 1143.7,203.9 1147.0,203.2 1150.4,202.6 1153.8,202.0 1157.2,201.4 1160.6,200.8 1164.0,200.2 1167.4,199.7 1170.8,199.1 1174.2,198.5 1177.6,197.9 1181.0,197.4 1184.4,196.8 1187.8,196.3 1191.2,195.7 1194.6,195.2 1198.0,194.6 1201.4,194.1 1204.8,193.5 1208.2,193.0 1211.6,192.5 1214.9,192.0 1218.3,191.5 1221.7,190.9 1225.1,190.4 1228.5,189.9 1231.9,189.4 1235.3,188.9 1238.7,188.4 1242.1,187.9 1245.5,187.4 1248.9,186.9 1252.3,186.4 1255.7,186.0 1259.1,185.5 1262.5,185.0 1265.9,184.5 1269.3,184.1 1272.7,183.6 1276.1,183.1 1279.4,182.6 1282.8,182.2 1286.2,181.7 1289.6,181.3 1293.0,180.8 1296.4,180.4 1299.8,179.9 1303.2,179.5 1306.6,179.0 1310.0,178.6 1313.4,178.1 1316.8,177.7 1320.2,177.2 1323.6,176.8 1327.0,176.4 1330.4,175.9 1333.8,175.5 1337.2,175.1 1340.6,174.7 1343.9,174.2 1347.3,173.8 1350.7,173.4 1354.1,173.0 1357.5,172.5 1360.9,172.1 1364.3,171.7 1367.7,171.3 1371.1,170.9 1374.5,170.5 1377.9,170.1 1381.3,169.7 1384.7,169.3 1388.1,168.9 1391.5,168.4 1394.9,168.0 1398.3,167.6" fill="none" stroke="#ff0000" stroke-width="2.2" stroke-linejoin="round"/>
<circle cx="903.9" cy="435.5" r="8.3" fill="#00c000" stroke="#000" stroke-width="1.8"/>
<circle cx="904.5" cy="407.4" r="8.3" fill="#00c000" stroke="#000" stroke-width="1.8"/>
<circle cx="904.9" cy="380.2" r="8.3" fill="#00c000" stroke="#000" stroke-width="1.8"/>
<circle cx="905.6" cy="323.2" r="8.3" fill="#00c000" stroke="#000" stroke-width="1.8"/>
<circle cx="906.9" cy="271.1" r="8.3" fill="#00c000" stroke="#000" stroke-width="1.8"/>
<circle cx="911.1" cy="212.9" r="8.3" fill="#00c000" stroke="#000" stroke-width="1.8"/>
<circle cx="912.1" cy="216.0" r="8.3" fill="#00c000" stroke="#000" stroke-width="1.8"/>
<circle cx="927.8" cy="171.2" r="8.3" fill="#00c000" stroke="#000" stroke-width="1.8"/>
<circle cx="950.7" cy="179.7" r="8.3" fill="#00c000" stroke="#000" stroke-width="1.8"/>
<circle cx="1017.9" cy="147.2" r="8.3" fill="#00c000" stroke="#000" stroke-width="1.8"/>
<circle cx="1008.8" cy="143.8" r="8.3" fill="#00c000" stroke="#000" stroke-width="1.8"/>
<circle cx="1091.8" cy="121.2" r="8.3" fill="#00c000" stroke="#000" stroke-width="1.8"/>
<circle cx="1132.8" cy="132.9" r="8.3" fill="#00c000" stroke="#000" stroke-width="1.8"/>
<circle cx="1245.8" cy="119.8" r="8.3" fill="#00c000" stroke="#000" stroke-width="1.8"/>
<circle cx="1239.7" cy="120.1" r="8.3" fill="#00c000" stroke="#000" stroke-width="1.8"/>
<circle cx="903.9" cy="435.5" r="8.4" fill="#0000ff" stroke="#000" stroke-width="2.2"/>
<circle cx="904.7" cy="406.6" r="8.4" fill="#0000ff" stroke="#000" stroke-width="2.2"/>
<circle cx="905.0" cy="381.3" r="8.4" fill="#0000ff" stroke="#000" stroke-width="2.2"/>
<circle cx="905.9" cy="324.0" r="8.4" fill="#0000ff" stroke="#000" stroke-width="2.2"/>
<circle cx="912.0" cy="216.4" r="8.4" fill="#0000ff" stroke="#000" stroke-width="2.2"/>
<circle cx="920.5" cy="220.9" r="8.4" fill="#0000ff" stroke="#000" stroke-width="2.2"/>
<circle cx="924.3" cy="284.0" r="8.4" fill="#0000ff" stroke="#000" stroke-width="2.2"/>
<circle cx="968.1" cy="186.8" r="8.4" fill="#0000ff" stroke="#000" stroke-width="2.2"/>
<circle cx="1017.5" cy="203.8" r="8.4" fill="#0000ff" stroke="#000" stroke-width="2.2"/>
<circle cx="1070.6" cy="166.6" r="8.4" fill="#0000ff" stroke="#000" stroke-width="2.2"/>
<circle cx="1125.5" cy="183.7" r="8.4" fill="#0000ff" stroke="#000" stroke-width="2.2"/>
<circle cx="1176.1" cy="164.2" r="8.4" fill="#0000ff" stroke="#000" stroke-width="2.2"/>
<circle cx="1200.9" cy="171.9" r="8.4" fill="#0000ff" stroke="#000" stroke-width="2.2"/>
<circle cx="1288.8" cy="145.6" r="8.4" fill="#0000ff" stroke="#000" stroke-width="2.2"/>
<circle cx="1295.7" cy="150.2" r="8.4" fill="#0000ff" stroke="#000" stroke-width="2.2"/>
<circle cx="903.9" cy="435.5" r="8.4" fill="#ff0000" stroke="#000" stroke-width="2.2"/>
<circle cx="904.9" cy="402.9" r="8.4" fill="#ff0000" stroke="#000" stroke-width="2.2"/>
<circle cx="905.0" cy="379.2" r="8.4" fill="#ff0000" stroke="#000" stroke-width="2.2"/>
<circle cx="907.0" cy="324.0" r="8.4" fill="#ff0000" stroke="#000" stroke-width="2.2"/>
<circle cx="905.7" cy="322.9" r="8.4" fill="#ff0000" stroke="#000" stroke-width="2.2"/>
<circle cx="920.2" cy="277.9" r="8.4" fill="#ff0000" stroke="#000" stroke-width="2.2"/>
<circle cx="919.9" cy="280.4" r="8.4" fill="#ff0000" stroke="#000" stroke-width="2.2"/>
<circle cx="943.6" cy="222.2" r="8.4" fill="#ff0000" stroke="#000" stroke-width="2.2"/>
<circle cx="949.7" cy="223.0" r="8.4" fill="#ff0000" stroke="#000" stroke-width="2.2"/>
<circle cx="1076.8" cy="216.1" r="8.4" fill="#ff0000" stroke="#000" stroke-width="2.2"/>
<circle cx="1103.4" cy="224.9" r="8.4" fill="#ff0000" stroke="#000" stroke-width="2.2"/>
<circle cx="1202.7" cy="203.1" r="8.4" fill="#ff0000" stroke="#000" stroke-width="2.2"/>
<circle cx="1229.0" cy="215.0" r="8.4" fill="#ff0000" stroke="#000" stroke-width="2.2"/>
<circle cx="1232.3" cy="178.0" r="8.4" fill="#ff0000" stroke="#000" stroke-width="2.2"/>
<circle cx="1229.0" cy="180.2" r="8.4" fill="#ff0000" stroke="#000" stroke-width="2.2"/>
<circle cx="1397.4" cy="178.6" r="8.4" fill="#ff0000" stroke="#000" stroke-width="2.2"/>
<circle cx="1389.9" cy="179.4" r="8.4" fill="#ff0000" stroke="#000" stroke-width="2.2"/>
<rect x="158.3" y="619.3" width="562.3" height="401" fill="none" stroke="#000" stroke-width="2"/>
<path d="M151.6 1020.3H158.3 M151.6 940.1H158.3 M151.6 859.9H158.3 M151.6 779.7H158.3 M151.6 699.5H158.3 M151.6 619.3H158.3 M158.3 1020.3V1026.5 M270.76 1020.3V1026.5 M383.22 1020.3V1026.5 M495.68 1020.3V1026.5 M608.14 1020.3V1026.5 M720.6 1020.3V1026.5" stroke="#000" stroke-width="2" fill="none"/>
<g font-family="&quot;Liberation Serif&quot;, serif" font-weight="bold" font-size="34.5"><text x="136.6" y="1032" text-anchor="end">0</text><text x="136.6" y="951.8" text-anchor="end">50</text><text x="136.6" y="871.6" text-anchor="end">100</text><text x="136.6" y="791.4" text-anchor="end">150</text><text x="136.6" y="711.2" text-anchor="end">200</text><text x="136.6" y="631" text-anchor="end">250</text><text x="158.8" y="1074.2" text-anchor="middle">0</text><text x="271.26" y="1074.2" text-anchor="middle">200</text><text x="383.72" y="1074.2" text-anchor="middle">400</text><text x="496.18" y="1074.2" text-anchor="middle">600</text><text x="608.64" y="1074.2" text-anchor="middle">800</text><text x="721.1" y="1074.2" text-anchor="middle">1000</text></g>
<g font-family="&quot;Liberation Serif&quot;, serif" font-weight="bold"><text transform="translate(342.55,1122.3) scale(0.86,1)" font-style="italic" font-size="45" stroke="#000" stroke-width="0.8">C</text><text x="369.85" y="1131.3" font-style="italic" font-size="38" stroke="#000" stroke-width="0.5">e</text><text x="534.25" y="1122.3" font-size="45.4" text-anchor="end">(mg/L)</text></g>
<g transform="translate(55.3,821.3) rotate(-90)" font-family="&quot;Liberation Serif&quot;, serif" font-weight="bold"><text transform="translate(-94,0) scale(0.9,1)" font-style="italic" font-size="45" stroke="#000" stroke-width="0.8">Q</text><text x="-62" y="9.5" font-style="italic" font-size="38" stroke="#000" stroke-width="0.5">e</text><text x="94.4" y="0" font-size="45.4" text-anchor="end">(mg/g)</text></g>
<text x="1.9" y="614.6" font-family="&quot;Liberation Serif&quot;, serif" font-weight="bold" font-size="50">(c)</text>
<circle cx="568.8" cy="885.2" r="8.25" fill="#00c000" stroke="#000" stroke-width="1.8"/>
<text x="700.2" y="901.5" text-anchor="end" font-family="&quot;Liberation Serif&quot;, serif" font-size="35">30<tspan font-size="33" dy="-7.3">o</tspan><tspan dy="7.3">C</tspan></text>
<circle cx="568.8" cy="935.1" r="8.1" fill="#0000ff" stroke="#000" stroke-width="2.2"/>
<text x="700.2" y="951.4" text-anchor="end" font-family="&quot;Liberation Serif&quot;, serif" font-size="35">40<tspan font-size="33" dy="-7.3">o</tspan><tspan dy="7.3">C</tspan></text>
<circle cx="568.8" cy="985" r="8.1" fill="#ff0000" stroke="#000" stroke-width="2.2"/>
<text x="700.2" y="1001.3" text-anchor="end" font-family="&quot;Liberation Serif&quot;, serif" font-size="35">50<tspan font-size="33" dy="-7.3">o</tspan><tspan dy="7.3">C</tspan></text>
<circle cx="158.3" cy="1020.3" r="8.3" fill="#00c000" stroke="#000" stroke-width="1.8"/>
<circle cx="158.9" cy="992.2" r="8.3" fill="#00c000" stroke="#000" stroke-width="1.8"/>
<circle cx="159.3" cy="965.0" r="8.3" fill="#00c000" stroke="#000" stroke-width="1.8"/>
<circle cx="160.0" cy="908.0" r="8.3" fill="#00c000" stroke="#000" stroke-width="1.8"/>
<circle cx="161.3" cy="855.9" r="8.3" fill="#00c000" stroke="#000" stroke-width="1.8"/>
<circle cx="165.5" cy="797.7" r="8.3" fill="#00c000" stroke="#000" stroke-width="1.8"/>
<circle cx="166.5" cy="800.7" r="8.3" fill="#00c000" stroke="#000" stroke-width="1.8"/>
<circle cx="182.2" cy="756.0" r="8.3" fill="#00c000" stroke="#000" stroke-width="1.8"/>
<circle cx="205.1" cy="764.5" r="8.3" fill="#00c000" stroke="#000" stroke-width="1.8"/>
<circle cx="272.3" cy="731.9" r="8.3" fill="#00c000" stroke="#000" stroke-width="1.8"/>
<circle cx="263.2" cy="728.5" r="8.3" fill="#00c000" stroke="#000" stroke-width="1.8"/>
<circle cx="346.3" cy="705.9" r="8.3" fill="#00c000" stroke="#000" stroke-width="1.8"/>
<circle cx="387.3" cy="717.6" r="8.3" fill="#00c000" stroke="#000" stroke-width="1.8"/>
<circle cx="500.3" cy="704.5" r="8.3" fill="#00c000" stroke="#000" stroke-width="1.8"/>
<circle cx="494.2" cy="704.8" r="8.3" fill="#00c000" stroke="#000" stroke-width="1.8"/>
<circle cx="158.3" cy="1020.3" r="8.4" fill="#0000ff" stroke="#000" stroke-width="2.2"/>
<circle cx="159.1" cy="991.4" r="8.4" fill="#0000ff" stroke="#000" stroke-width="2.2"/>
<circle cx="159.4" cy="966.1" r="8.4" fill="#0000ff" stroke="#000" stroke-width="2.2"/>
<circle cx="160.3" cy="908.8" r="8.4" fill="#0000ff" stroke="#000" stroke-width="2.2"/>
<circle cx="166.4" cy="801.2" r="8.4" fill="#0000ff" stroke="#000" stroke-width="2.2"/>
<circle cx="174.9" cy="805.7" r="8.4" fill="#0000ff" stroke="#000" stroke-width="2.2"/>
<circle cx="178.7" cy="868.7" r="8.4" fill="#0000ff" stroke="#000" stroke-width="2.2"/>
<circle cx="222.6" cy="771.5" r="8.4" fill="#0000ff" stroke="#000" stroke-width="2.2"/>
<circle cx="271.9" cy="788.5" r="8.4" fill="#0000ff" stroke="#000" stroke-width="2.2"/>
<circle cx="325.1" cy="751.3" r="8.4" fill="#0000ff" stroke="#000" stroke-width="2.2"/>
<circle cx="380.0" cy="768.5" r="8.4" fill="#0000ff" stroke="#000" stroke-width="2.2"/>
<circle cx="430.6" cy="748.9" r="8.4" fill="#0000ff" stroke="#000" stroke-width="2.2"/>
<circle cx="455.4" cy="756.6" r="8.4" fill="#0000ff" stroke="#000" stroke-width="2.2"/>
<circle cx="543.3" cy="730.3" r="8.4" fill="#0000ff" stroke="#000" stroke-width="2.2"/>
<circle cx="550.2" cy="734.9" r="8.4" fill="#0000ff" stroke="#000" stroke-width="2.2"/>
<circle cx="158.3" cy="1020.3" r="8.4" fill="#ff0000" stroke="#000" stroke-width="2.2"/>
<circle cx="159.3" cy="987.7" r="8.4" fill="#ff0000" stroke="#000" stroke-width="2.2"/>
<circle cx="159.4" cy="964.0" r="8.4" fill="#ff0000" stroke="#000" stroke-width="2.2"/>
<circle cx="161.4" cy="908.8" r="8.4" fill="#ff0000" stroke="#000" stroke-width="2.2"/>
<circle cx="160.1" cy="907.7" r="8.4" fill="#ff0000" stroke="#000" stroke-width="2.2"/>
<circle cx="174.6" cy="862.6" r="8.4" fill="#ff0000" stroke="#000" stroke-width="2.2"/>
<circle cx="174.3" cy="865.2" r="8.4" fill="#ff0000" stroke="#000" stroke-width="2.2"/>
<circle cx="198.1" cy="807.0" r="8.4" fill="#ff0000" stroke="#000" stroke-width="2.2"/>
<circle cx="204.1" cy="807.8" r="8.4" fill="#ff0000" stroke="#000" stroke-width="2.2"/>
<circle cx="331.3" cy="800.9" r="8.4" fill="#ff0000" stroke="#000" stroke-width="2.2"/>
<circle cx="357.9" cy="809.7" r="8.4" fill="#ff0000" stroke="#000" stroke-width="2.2"/>
<circle cx="457.2" cy="787.9" r="8.4" fill="#ff0000" stroke="#000" stroke-width="2.2"/>
<circle cx="483.5" cy="799.8" r="8.4" fill="#ff0000" stroke="#000" stroke-width="2.2"/>
<circle cx="486.8" cy="762.7" r="8.4" fill="#ff0000" stroke="#000" stroke-width="2.2"/>
<circle cx="483.5" cy="764.9" r="8.4" fill="#ff0000" stroke="#000" stroke-width="2.2"/>
<circle cx="652.0" cy="763.3" r="8.4" fill="#ff0000" stroke="#000" stroke-width="2.2"/>
<circle cx="644.5" cy="764.1" r="8.4" fill="#ff0000" stroke="#000" stroke-width="2.2"/>
<polyline points="158.3,1020.3 158.3,997.2 158.4,990.5 158.4,985.8 158.5,982.1 158.5,979.0 158.6,976.3 158.6,973.9 158.7,971.7 158.7,969.7 158.8,967.8 158.8,966.1 158.9,964.5 158.9,963.0 159.0,961.6 159.0,960.2 159.1,959.0 159.1,957.7 159.2,956.6 159.2,955.4 159.3,954.3 159.3,953.3 159.3,952.3 159.4,951.3 159.4,950.4 159.5,949.5 159.5,948.6 159.6,947.7 159.6,946.9 159.7,946.1 159.7,945.3 159.8,944.5 159.8,943.8 159.9,943.0 159.9,942.3 160.0,941.6 160.0,940.9 160.1,940.2 160.1,939.6 160.2,938.9 160.2,938.3 160.3,937.7 160.3,937.1 160.3,936.5 160.4,935.9 160.4,935.3 160.5,934.8 160.5,934.2 160.6,933.7 160.6,933.1 160.7,932.6 160.7,932.1 160.8,931.6 160.8,931.1 160.9,930.6 160.9,930.1 161.0,929.6 161.0,929.1 161.1,928.7 161.1,928.2 161.1,928.2 161.4,925.9 161.6,923.7 161.9,921.7 162.1,919.8 162.4,918.0 162.6,916.3 162.9,914.6 163.1,913.0 163.4,911.5 163.6,910.1 163.9,908.7 164.1,907.4 164.4,906.1 164.6,904.9 164.8,903.7 165.1,902.5 165.3,901.4 165.6,900.3 165.8,899.2 166.1,898.2 166.3,897.2 166.6,896.2 166.8,895.3 167.1,894.4 167.3,893.5 167.6,892.6 167.8,891.8 168.1,890.9 168.3,890.1 168.6,889.3 168.8,888.5 169.1,887.8 169.3,887.0 169.6,886.3 169.8,885.5 170.1,884.8 170.3,884.1 170.6,883.5 170.8,882.8 171.1,882.1 171.3,881.5 171.6,880.9 171.8,880.2 172.1,879.6 172.3,879.0 172.6,878.4 172.8,877.9 173.1,877.3 173.3,876.7 173.6,876.2 173.8,875.6 174.1,875.1 174.3,874.6 174.6,874.0 174.8,873.5 175.1,873.0 175.3,872.5 175.6,872.0 175.8,871.5 176.1,871.0 176.3,870.6 176.6,870.1 176.8,869.6 177.1,869.2 177.3,868.7 177.6,868.3 177.8,867.8 178.1,867.4 178.3,867.0 178.5,866.5 178.8,866.1 179.0,865.7 179.3,865.3 179.5,864.9 179.8,864.5 180.0,864.1 180.3,863.7 180.5,863.3 180.8,862.9 180.8,862.9 184.2,858.1 187.6,853.8 191.0,849.9 194.4,846.5 197.8,843.4 201.2,840.5 204.6,837.8 208.0,835.4 211.4,833.1 214.8,830.9 218.1,828.9 221.5,827.0 224.9,825.2 228.3,823.4 231.7,821.8 235.1,820.3 238.5,818.8 241.9,817.4 245.3,816.0 248.7,814.7 252.1,813.5 255.5,812.3 258.9,811.1 262.3,810.0 265.7,808.9 269.1,807.9 272.5,806.9 275.9,805.9 279.3,804.9 282.7,804.0 286.1,803.1 289.5,802.3 292.9,801.4 296.3,800.6 299.7,799.8 303.0,799.0 306.4,798.3 309.8,797.6 313.2,796.8 316.6,796.1 320.0,795.5 323.4,794.8 326.8,794.1 330.2,793.5 333.6,792.9 337.0,792.3 340.4,791.7 343.8,791.1 347.2,790.5 350.6,789.9 354.0,789.4 357.4,788.8 360.8,788.3 364.2,787.8 367.6,787.3 371.0,786.8 374.4,786.3 377.8,785.8 381.2,785.3 384.6,784.9 388.0,784.4 391.3,783.9 394.7,783.5 398.1,783.1 401.5,782.6 404.9,782.2 408.3,781.8 411.7,781.4 415.1,781.0 418.5,780.6 421.9,780.2 425.3,779.8 428.7,779.4 432.1,779.0 435.5,778.7 438.9,778.3 442.3,777.9 445.7,777.6 449.1,777.2 452.5,776.9 455.9,776.6 459.3,776.2 462.7,775.9 466.1,775.6 469.5,775.2 472.9,774.9 476.2,774.6 479.6,774.3 483.0,774.0 486.4,773.7 489.8,773.4 493.2,773.1 496.6,772.8 500.0,772.5 503.4,772.2 506.8,771.9 510.2,771.6 513.6,771.4 517.0,771.1 520.4,770.8 523.8,770.5 527.2,770.3 530.6,770.0 534.0,769.8 537.4,769.5 540.8,769.2 544.2,769.0 547.6,768.7 551.0,768.5 554.4,768.3 557.8,768.0 561.1,767.8 564.5,767.5 567.9,767.3 571.3,767.1 574.7,766.8 578.1,766.6 581.5,766.4 584.9,766.2 588.3,765.9 591.7,765.7 595.1,765.5 598.5,765.3 601.9,765.1 605.3,764.9 608.7,764.6 612.1,764.4 615.5,764.2 618.9,764.0 622.3,763.8 625.7,763.6 629.1,763.4 632.5,763.2 635.9,763.0 639.3,762.8 642.7,762.6 646.1,762.5 649.4,762.3 652.8,762.1" fill="none" stroke="#ff0000" stroke-width="2.2" stroke-linejoin="round"/>
<polyline points="158.3,1020.3 158.3,993.4 158.4,985.4 158.4,979.8 158.5,975.3 158.5,971.6 158.6,968.4 158.6,965.5 158.7,962.9 158.7,960.5 158.8,958.3 158.8,956.3 158.9,954.4 158.9,952.6 159.0,950.9 159.0,949.3 159.1,947.8 159.1,946.4 159.2,945.0 159.2,943.7 159.3,942.4 159.3,941.2 159.3,940.0 159.4,938.8 159.4,937.7 159.5,936.7 159.5,935.6 159.6,934.6 159.6,933.6 159.7,932.7 159.7,931.8 159.8,930.9 159.8,930.0 159.9,929.1 159.9,928.3 160.0,927.5 160.0,926.7 160.1,925.9 160.1,925.1 160.2,924.4 160.2,923.6 160.3,922.9 160.3,922.2 160.3,921.5 160.4,920.8 160.4,920.2 160.5,919.5 160.5,918.9 160.6,918.3 160.6,917.6 160.7,917.0 160.7,916.4 160.8,915.8 160.8,915.3 160.9,914.7 160.9,914.1 161.0,913.6 161.0,913.0 161.1,912.5 161.1,911.9 161.1,911.9 161.4,909.3 161.6,906.8 161.9,904.5 162.1,902.3 162.4,900.2 162.6,898.2 162.9,896.4 163.1,894.6 163.4,892.9 163.6,891.2 163.9,889.7 164.1,888.2 164.4,886.7 164.6,885.3 164.8,883.9 165.1,882.6 165.3,881.4 165.6,880.1 165.8,879.0 166.1,877.8 166.3,876.7 166.6,875.6 166.8,874.5 167.1,873.5 167.3,872.5 167.6,871.5 167.8,870.6 168.1,869.6 168.3,868.7 168.6,867.8 168.8,867.0 169.1,866.1 169.3,865.3 169.6,864.4 169.8,863.6 170.1,862.9 170.3,862.1 170.6,861.3 170.8,860.6 171.1,859.9 171.3,859.2 171.6,858.5 171.8,857.8 172.1,857.1 172.3,856.4 172.6,855.8 172.8,855.1 173.1,854.5 173.3,853.9 173.6,853.3 173.8,852.7 174.1,852.1 174.3,851.5 174.6,850.9 174.8,850.3 175.1,849.8 175.3,849.2 175.6,848.7 175.8,848.1 176.1,847.6 176.3,847.1 176.6,846.6 176.8,846.0 177.1,845.5 177.3,845.1 177.6,844.6 177.8,844.1 178.1,843.6 178.3,843.1 178.5,842.7 178.8,842.2 179.0,841.7 179.3,841.3 179.5,840.8 179.8,840.4 180.0,840.0 180.3,839.5 180.5,839.1 180.8,838.7 180.8,838.7 183.5,834.4 186.1,830.6 188.8,827.1 191.4,824.0 194.1,821.0 196.8,818.3 199.4,815.7 202.1,813.3 204.8,811.1 207.4,808.9 210.1,806.9 212.8,805.0 215.4,803.2 218.1,801.4 220.7,799.8 223.4,798.2 226.1,796.7 228.7,795.2 231.4,793.8 234.1,792.4 236.7,791.1 239.4,789.8 242.1,788.6 244.7,787.4 247.4,786.2 250.1,785.1 252.7,784.0 255.4,782.9 258.0,781.9 260.7,780.9 263.4,779.9 266.0,778.9 268.7,778.0 271.4,777.1 274.0,776.2 276.7,775.3 279.4,774.5 282.0,773.6 284.7,772.8 287.3,772.0 290.0,771.2 292.7,770.4 295.3,769.7 298.0,768.9 300.7,768.2 303.3,767.5 306.0,766.8 308.7,766.1 311.3,765.4 314.0,764.7 316.6,764.0 319.3,763.4 322.0,762.7 324.6,762.1 327.3,761.5 330.0,760.9 332.6,760.3 335.3,759.7 338.0,759.1 340.6,758.5 343.3,757.9 346.0,757.4 348.6,756.8 351.3,756.2 353.9,755.7 356.6,755.2 359.3,754.6 361.9,754.1 364.6,753.6 367.3,753.1 369.9,752.6 372.6,752.1 375.3,751.6 377.9,751.1 380.6,750.6 383.2,750.1 385.9,749.6 388.6,749.1 391.2,748.7 393.9,748.2 396.6,747.7 399.2,747.3 401.9,746.8 404.6,746.4 407.2,745.9 409.9,745.5 412.5,745.1 415.2,744.6 417.9,744.2 420.5,743.8 423.2,743.4 425.9,743.0 428.5,742.5 431.2,742.1 433.9,741.7 436.5,741.3 439.2,740.9 441.8,740.5 444.5,740.1 447.2,739.7 449.8,739.3 452.5,739.0 455.2,738.6 457.8,738.2 460.5,737.8 463.2,737.4 465.8,737.1 468.5,736.7 471.2,736.3 473.8,736.0 476.5,735.6 479.1,735.2 481.8,734.9 484.5,734.5 487.1,734.2 489.8,733.8 492.5,733.5 495.1,733.1 497.8,732.8 500.5,732.4 503.1,732.1 505.8,731.7 508.4,731.4 511.1,731.1 513.8,730.7 516.4,730.4 519.1,730.1 521.8,729.7 524.4,729.4 527.1,729.1 529.8,728.8 532.4,728.4 535.1,728.1 537.7,727.8 540.4,727.5 543.1,727.2 545.7,726.9 548.4,726.6 551.1,726.2" fill="none" stroke="#0000ff" stroke-width="2.2" stroke-linejoin="round"/>
<polyline points="158.3,1020.3 158.3,984.3 158.4,974.5 158.4,967.7 158.5,962.4 158.5,957.9 158.6,954.0 158.6,950.6 158.7,947.5 158.7,944.7 158.8,942.1 158.8,939.7 158.9,937.4 158.9,935.3 159.0,933.3 159.0,931.4 159.1,929.6 159.1,927.9 159.2,926.3 159.2,924.7 159.3,923.2 159.3,921.8 159.3,920.4 159.4,919.0 159.4,917.7 159.5,916.4 159.5,915.2 159.6,914.0 159.6,912.9 159.7,911.8 159.7,910.7 159.8,909.6 159.8,908.6 159.9,907.6 159.9,906.6 160.0,905.6 160.0,904.7 160.1,903.7 160.1,902.8 160.2,902.0 160.2,901.1 160.3,900.3 160.3,899.4 160.3,898.6 160.4,897.8 160.4,897.0 160.5,896.3 160.5,895.5 160.6,894.7 160.6,894.0 160.7,893.3 160.7,892.6 160.8,891.9 160.8,891.2 160.9,890.5 160.9,889.9 161.0,889.2 161.0,888.6 161.1,887.9 161.1,887.3 161.1,887.3 161.4,884.2 161.6,881.2 161.9,878.5 162.1,875.9 162.4,873.4 162.6,871.1 162.9,868.9 163.1,866.7 163.4,864.7 163.6,862.8 163.9,860.9 164.1,859.1 164.4,857.4 164.6,855.7 164.8,854.1 165.1,852.5 165.3,851.0 165.6,849.6 165.8,848.2 166.1,846.8 166.3,845.4 166.6,844.1 166.8,842.9 167.1,841.6 167.3,840.4 167.6,839.3 167.8,838.1 168.1,837.0 168.3,835.9 168.6,834.8 168.8,833.8 169.1,832.8 169.3,831.8 169.6,830.8 169.8,829.8 170.1,828.9 170.3,827.9 170.6,827.0 170.8,826.2 171.1,825.3 171.3,824.4 171.6,823.6 171.8,822.7 172.1,821.9 172.3,821.1 172.6,820.3 172.8,819.6 173.1,818.8 173.3,818.0 173.6,817.3 173.8,816.6 174.1,815.9 174.3,815.2 174.6,814.5 174.8,813.8 175.1,813.1 175.3,812.4 175.6,811.8 175.8,811.1 176.1,810.5 176.3,809.8 176.6,809.2 176.8,808.6 177.1,808.0 177.3,807.4 177.6,806.8 177.8,806.2 178.1,805.6 178.3,805.1 178.5,804.5 178.8,803.9 179.0,803.4 179.3,802.8 179.5,802.3 179.8,801.8 180.0,801.2 180.3,800.7 180.5,800.2 180.8,799.7 180.8,799.7 183.1,795.2 185.4,791.1 187.7,787.4 190.0,783.9 192.3,780.7 194.6,777.7 196.9,774.8 199.2,772.1 201.5,769.6 203.7,767.2 206.0,764.9 208.3,762.8 210.6,760.7 212.9,758.7 215.2,756.8 217.5,755.0 219.8,753.3 222.1,751.6 224.4,750.0 226.7,748.4 229.0,746.9 231.3,745.5 233.6,744.1 235.9,742.7 238.2,741.4 240.5,740.1 242.8,738.8 245.1,737.6 247.4,736.5 249.7,735.3 252.0,734.2 254.3,733.1 256.6,732.1 258.8,731.0 261.1,730.0 263.4,729.0 265.7,728.1 268.0,727.1 270.3,726.2 272.6,725.3 274.9,724.4 277.2,723.6 279.5,722.7 281.8,721.9 284.1,721.1 286.4,720.3 288.7,719.5 291.0,718.8 293.3,718.0 295.6,717.3 297.9,716.6 300.2,715.9 302.5,715.2 304.8,714.5 307.1,713.8 309.4,713.2 311.6,712.5 313.9,711.9 316.2,711.2 318.5,710.6 320.8,710.0 323.1,709.4 325.4,708.8 327.7,708.2 330.0,707.7 332.3,707.1 334.6,706.5 336.9,706.0 339.2,705.5 341.5,704.9 343.8,704.4 346.1,703.9 348.4,703.4 350.7,702.9 353.0,702.4 355.3,701.9 357.6,701.4 359.9,700.9 362.2,700.4 364.4,700.0 366.7,699.5 369.0,699.1 371.3,698.6 373.6,698.2 375.9,697.7 378.2,697.3 380.5,696.9 382.8,696.4 385.1,696.0 387.4,695.6 389.7,695.2 392.0,694.8 394.3,694.4 396.6,694.0 398.9,693.6 401.2,693.2 403.5,692.8 405.8,692.4 408.1,692.1 410.4,691.7 412.7,691.3 415.0,691.0 417.3,690.6 419.5,690.2 421.8,689.9 424.1,689.5 426.4,689.2 428.7,688.9 431.0,688.5 433.3,688.2 435.6,687.8 437.9,687.5 440.2,687.2 442.5,686.9 444.8,686.5 447.1,686.2 449.4,685.9 451.7,685.6 454.0,685.3 456.3,685.0 458.6,684.7 460.9,684.4 463.2,684.1 465.5,683.8 467.8,683.5 470.1,683.2 472.3,682.9 474.6,682.6 476.9,682.3 479.2,682.1 481.5,681.8 483.8,681.5 486.1,681.2 488.4,680.9 490.7,680.7 493.0,680.4 495.3,680.1 497.6,679.9 499.9,679.6" fill="none" stroke="#00c000" stroke-width="1.8" stroke-linejoin="round"/>
<rect x="903.9" y="619.3" width="562" height="401" fill="none" stroke="#000" stroke-width="2"/>
<path d="M897.2 1020.3H903.9 M897.2 940.1H903.9 M897.2 859.9H903.9 M897.2 779.7H903.9 M897.2 699.5H903.9 M897.2 619.3H903.9 M903.9 1020.3V1026.5 M1016.3 1020.3V1026.5 M1128.7 1020.3V1026.5 M1241.1 1020.3V1026.5 M1353.5 1020.3V1026.5 M1465.9 1020.3V1026.5" stroke="#000" stroke-width="2" fill="none"/>
<g font-family="&quot;Liberation Serif&quot;, serif" font-weight="bold" font-size="34.5"><text x="882.2" y="1032" text-anchor="end">0</text><text x="882.2" y="951.8" text-anchor="end">50</text><text x="882.2" y="871.6" text-anchor="end">100</text><text x="882.2" y="791.4" text-anchor="end">150</text><text x="882.2" y="711.2" text-anchor="end">200</text><text x="882.2" y="631" text-anchor="end">250</text><text x="904.4" y="1074.2" text-anchor="middle">0</text><text x="1016.8" y="1074.2" text-anchor="middle">200</text><text x="1129.2" y="1074.2" text-anchor="middle">400</text><text x="1241.6" y="1074.2" text-anchor="middle">600</text><text x="1354" y="1074.2" text-anchor="middle">800</text><text x="1466.4" y="1074.2" text-anchor="middle">1000</text></g>
<g font-family="&quot;Liberation Serif&quot;, serif" font-weight="bold"><text transform="translate(1088,1122.3) scale(0.86,1)" font-style="italic" font-size="45" stroke="#000" stroke-width="0.8">C</text><text x="1115.3" y="1131.3" font-style="italic" font-size="38" stroke="#000" stroke-width="0.5">e</text><text x="1279.7" y="1122.3" font-size="45.4" text-anchor="end">(mg/L)</text></g>
<g transform="translate(800.9,821.3) rotate(-90)" font-family="&quot;Liberation Serif&quot;, serif" font-weight="bold"><text transform="translate(-94,0) scale(0.9,1)" font-style="italic" font-size="45" stroke="#000" stroke-width="0.8">Q</text><text x="-62" y="9.5" font-style="italic" font-size="38" stroke="#000" stroke-width="0.5">e</text><text x="94.4" y="0" font-size="45.4" text-anchor="end">(mg/g)</text></g>
<text x="749.7" y="614.6" font-family="&quot;Liberation Serif&quot;, serif" font-weight="bold" font-size="50">(d)</text>
<circle cx="1314" cy="885.2" r="8.25" fill="#00c000" stroke="#000" stroke-width="1.8"/>
<text x="1445.4" y="901.5" text-anchor="end" font-family="&quot;Liberation Serif&quot;, serif" font-size="35">30<tspan font-size="33" dy="-7.3">o</tspan><tspan dy="7.3">C</tspan></text>
<circle cx="1314" cy="935.1" r="8.1" fill="#0000ff" stroke="#000" stroke-width="2.2"/>
<text x="1445.4" y="951.4" text-anchor="end" font-family="&quot;Liberation Serif&quot;, serif" font-size="35">40<tspan font-size="33" dy="-7.3">o</tspan><tspan dy="7.3">C</tspan></text>
<circle cx="1314" cy="985" r="8.1" fill="#ff0000" stroke="#000" stroke-width="2.2"/>
<text x="1445.4" y="1001.3" text-anchor="end" font-family="&quot;Liberation Serif&quot;, serif" font-size="35">50<tspan font-size="33" dy="-7.3">o</tspan><tspan dy="7.3">C</tspan></text>
<circle cx="903.9" cy="1020.3" r="8.3" fill="#00c000" stroke="#000" stroke-width="1.8"/>
<circle cx="904.5" cy="992.2" r="8.3" fill="#00c000" stroke="#000" stroke-width="1.8"/>
<circle cx="904.9" cy="965.0" r="8.3" fill="#00c000" stroke="#000" stroke-width="1.8"/>
<circle cx="905.6" cy="908.0" r="8.3" fill="#00c000" stroke="#000" stroke-width="1.8"/>
<circle cx="906.9" cy="855.9" r="8.3" fill="#00c000" stroke="#000" stroke-width="1.8"/>
<circle cx="911.1" cy="797.7" r="8.3" fill="#00c000" stroke="#000" stroke-width="1.8"/>
<circle cx="912.0" cy="800.7" r="8.3" fill="#00c000" stroke="#000" stroke-width="1.8"/>
<circle cx="927.8" cy="756.0" r="8.3" fill="#00c000" stroke="#000" stroke-width="1.8"/>
<circle cx="950.7" cy="764.5" r="8.3" fill="#00c000" stroke="#000" stroke-width="1.8"/>
<circle cx="1017.9" cy="731.9" r="8.3" fill="#00c000" stroke="#000" stroke-width="1.8"/>
<circle cx="1008.8" cy="728.5" r="8.3" fill="#00c000" stroke="#000" stroke-width="1.8"/>
<circle cx="1091.8" cy="705.9" r="8.3" fill="#00c000" stroke="#000" stroke-width="1.8"/>
<circle cx="1132.7" cy="717.6" r="8.3" fill="#00c000" stroke="#000" stroke-width="1.8"/>
<circle cx="1245.8" cy="704.5" r="8.3" fill="#00c000" stroke="#000" stroke-width="1.8"/>
<circle cx="1239.6" cy="704.8" r="8.3" fill="#00c000" stroke="#000" stroke-width="1.8"/>
<circle cx="903.9" cy="1020.3" r="8.4" fill="#0000ff" stroke="#000" stroke-width="2.2"/>
<circle cx="904.7" cy="991.4" r="8.4" fill="#0000ff" stroke="#000" stroke-width="2.2"/>
<circle cx="905.0" cy="966.1" r="8.4" fill="#0000ff" stroke="#000" stroke-width="2.2"/>
<circle cx="905.9" cy="908.8" r="8.4" fill="#0000ff" stroke="#000" stroke-width="2.2"/>
<circle cx="912.0" cy="801.2" r="8.4" fill="#0000ff" stroke="#000" stroke-width="2.2"/>
<circle cx="920.5" cy="805.7" r="8.4" fill="#0000ff" stroke="#000" stroke-width="2.2"/>
<circle cx="924.3" cy="868.7" r="8.4" fill="#0000ff" stroke="#000" stroke-width="2.2"/>
<circle cx="968.1" cy="771.5" r="8.4" fill="#0000ff" stroke="#000" stroke-width="2.2"/>
<circle cx="1017.5" cy="788.5" r="8.4" fill="#0000ff" stroke="#000" stroke-width="2.2"/>
<circle cx="1070.6" cy="751.3" r="8.4" fill="#0000ff" stroke="#000" stroke-width="2.2"/>
<circle cx="1125.4" cy="768.5" r="8.4" fill="#0000ff" stroke="#000" stroke-width="2.2"/>
<circle cx="1176.0" cy="748.9" r="8.4" fill="#0000ff" stroke="#000" stroke-width="2.2"/>
<circle cx="1200.9" cy="756.6" r="8.4" fill="#0000ff" stroke="#000" stroke-width="2.2"/>
<circle cx="1288.7" cy="730.3" r="8.4" fill="#0000ff" stroke="#000" stroke-width="2.2"/>
<circle cx="1295.6" cy="734.9" r="8.4" fill="#0000ff" stroke="#000" stroke-width="2.2"/>
<circle cx="903.9" cy="1020.3" r="8.4" fill="#ff0000" stroke="#000" stroke-width="2.2"/>
<circle cx="904.9" cy="987.7" r="8.4" fill="#ff0000" stroke="#000" stroke-width="2.2"/>
<circle cx="905.0" cy="964.0" r="8.4" fill="#ff0000" stroke="#000" stroke-width="2.2"/>
<circle cx="907.0" cy="908.8" r="8.4" fill="#ff0000" stroke="#000" stroke-width="2.2"/>
<circle cx="905.7" cy="907.7" r="8.4" fill="#ff0000" stroke="#000" stroke-width="2.2"/>
<circle cx="920.2" cy="862.6" r="8.4" fill="#ff0000" stroke="#000" stroke-width="2.2"/>
<circle cx="919.9" cy="865.2" r="8.4" fill="#ff0000" stroke="#000" stroke-width="2.2"/>
<circle cx="943.6" cy="807.0" r="8.4" fill="#ff0000" stroke="#000" stroke-width="2.2"/>
<circle cx="949.7" cy="807.8" r="8.4" fill="#ff0000" stroke="#000" stroke-width="2.2"/>
<circle cx="1076.8" cy="800.9" r="8.4" fill="#ff0000" stroke="#000" stroke-width="2.2"/>
<circle cx="1103.4" cy="809.7" r="8.4" fill="#ff0000" stroke="#000" stroke-width="2.2"/>
<circle cx="1202.6" cy="787.9" r="8.4" fill="#ff0000" stroke="#000" stroke-width="2.2"/>
<circle cx="1228.9" cy="799.8" r="8.4" fill="#ff0000" stroke="#000" stroke-width="2.2"/>
<circle cx="1232.2" cy="762.7" r="8.4" fill="#ff0000" stroke="#000" stroke-width="2.2"/>
<circle cx="1228.9" cy="764.9" r="8.4" fill="#ff0000" stroke="#000" stroke-width="2.2"/>
<circle cx="1397.3" cy="763.3" r="8.4" fill="#ff0000" stroke="#000" stroke-width="2.2"/>
<circle cx="1389.8" cy="764.1" r="8.4" fill="#ff0000" stroke="#000" stroke-width="2.2"/>
<polyline points="903.9,1020.3 903.9,1012.6 904.0,1008.0 904.0,1004.2 904.1,1000.8 904.1,997.8 904.2,995.0 904.2,992.4 904.3,989.9 904.3,987.6 904.4,985.5 904.4,983.4 904.5,981.4 904.5,979.5 904.6,977.7 904.6,975.9 904.7,974.2 904.7,972.6 904.8,971.0 904.8,969.5 904.9,968.0 904.9,966.5 904.9,965.1 905.0,963.7 905.0,962.4 905.1,961.1 905.1,959.8 905.2,958.6 905.2,957.4 905.3,956.2 905.3,955.0 905.4,953.9 905.4,952.8 905.5,951.7 905.5,950.6 905.6,949.6 905.6,948.6 905.7,947.6 905.7,946.6 905.8,945.6 905.8,944.7 905.9,943.7 905.9,942.8 905.9,941.9 906.0,941.0 906.0,940.2 906.1,939.3 906.1,938.5 906.2,937.6 906.2,936.8 906.3,936.0 906.3,935.2 906.4,934.4 906.4,933.7 906.5,932.9 906.5,932.2 906.6,931.4 906.6,930.7 906.7,930.0 906.7,929.3 906.7,929.3 907.0,925.7 907.2,922.4 907.5,919.3 907.7,916.4 908.0,913.6 908.2,911.0 908.5,908.5 908.7,906.1 909.0,903.8 909.2,901.7 909.4,899.6 909.7,897.6 909.9,895.7 910.2,893.9 910.4,892.2 910.7,890.5 910.9,888.8 911.2,887.3 911.4,885.8 911.7,884.3 911.9,882.9 912.2,881.5 912.4,880.2 912.7,878.9 912.9,877.7 913.2,876.5 913.4,875.3 913.7,874.1 913.9,873.0 914.2,871.9 914.4,870.9 914.7,869.9 914.9,868.9 915.2,867.9 915.4,866.9 915.7,866.0 915.9,865.1 916.2,864.2 916.4,863.4 916.7,862.5 916.9,861.7 917.2,860.9 917.4,860.1 917.7,859.3 917.9,858.6 918.2,857.9 918.4,857.1 918.7,856.4 918.9,855.7 919.2,855.0 919.4,854.4 919.7,853.7 919.9,853.1 920.2,852.5 920.4,851.8 920.7,851.2 920.9,850.6 921.2,850.0 921.4,849.5 921.6,848.9 921.9,848.4 922.1,847.8 922.4,847.3 922.6,846.7 922.9,846.2 923.1,845.7 923.4,845.2 923.6,844.7 923.9,844.2 924.1,843.8 924.4,843.3 924.6,842.8 924.9,842.4 925.1,841.9 925.4,841.5 925.6,841.0 925.9,840.6 926.1,840.2 926.4,839.8 926.4,839.8 929.8,834.6 933.2,830.3 936.6,826.5 940.0,823.3 943.4,820.5 946.7,818.0 950.1,815.8 953.5,813.7 956.9,811.9 960.3,810.2 963.7,808.7 967.1,807.3 970.5,806.0 973.9,804.8 977.3,803.7 980.7,802.7 984.1,801.7 987.5,800.8 990.9,799.9 994.3,799.1 997.7,798.3 1001.1,797.6 1004.4,796.9 1007.8,796.2 1011.2,795.6 1014.6,795.0 1018.0,794.4 1021.4,793.9 1024.8,793.4 1028.2,792.9 1031.6,792.4 1035.0,792.0 1038.4,791.5 1041.8,791.1 1045.2,790.7 1048.6,790.3 1052.0,789.9 1055.4,789.6 1058.8,789.2 1062.1,788.9 1065.5,788.6 1068.9,788.2 1072.3,787.9 1075.7,787.6 1079.1,787.3 1082.5,787.1 1085.9,786.8 1089.3,786.5 1092.7,786.3 1096.1,786.0 1099.5,785.8 1102.9,785.6 1106.3,785.3 1109.7,785.1 1113.1,784.9 1116.5,784.7 1119.9,784.5 1123.2,784.3 1126.6,784.1 1130.0,783.9 1133.4,783.7 1136.8,783.5 1140.2,783.3 1143.6,783.2 1147.0,783.0 1150.4,782.8 1153.8,782.7 1157.2,782.5 1160.6,782.3 1164.0,782.2 1167.4,782.0 1170.8,781.9 1174.2,781.8 1177.6,781.6 1180.9,781.5 1184.3,781.3 1187.7,781.2 1191.1,781.1 1194.5,781.0 1197.9,780.8 1201.3,780.7 1204.7,780.6 1208.1,780.5 1211.5,780.4 1214.9,780.2 1218.3,780.1 1221.7,780.0 1225.1,779.9 1228.5,779.8 1231.9,779.7 1235.3,779.6 1238.6,779.5 1242.0,779.4 1245.4,779.3 1248.8,779.2 1252.2,779.1 1255.6,779.0 1259.0,778.9 1262.4,778.8 1265.8,778.7 1269.2,778.7 1272.6,778.6 1276.0,778.5 1279.4,778.4 1282.8,778.3 1286.2,778.2 1289.6,778.2 1293.0,778.1 1296.4,778.0 1299.7,777.9 1303.1,777.8 1306.5,777.8 1309.9,777.7 1313.3,777.6 1316.7,777.6 1320.1,777.5 1323.5,777.4 1326.9,777.3 1330.3,777.3 1333.7,777.2 1337.1,777.1 1340.5,777.1 1343.9,777.0 1347.3,776.9 1350.7,776.9 1354.1,776.8 1357.4,776.8 1360.8,776.7 1364.2,776.6 1367.6,776.6 1371.0,776.5 1374.4,776.5 1377.8,776.4 1381.2,776.4 1384.6,776.3 1388.0,776.2 1391.4,776.2 1394.8,776.1 1398.2,776.1" fill="none" stroke="#ff0000" stroke-width="2.2" stroke-linejoin="round"/>
<polyline points="903.9,1020.3 903.9,1010.3 904.0,1004.6 904.0,1000.0 904.1,995.9 904.1,992.3 904.2,989.0 904.2,986.0 904.3,983.2 904.3,980.5 904.4,978.0 904.4,975.6 904.5,973.3 904.5,971.1 904.6,969.1 904.6,967.1 904.7,965.1 904.7,963.3 904.8,961.5 904.8,959.7 904.9,958.0 904.9,956.4 904.9,954.8 905.0,953.3 905.0,951.8 905.1,950.3 905.1,948.9 905.2,947.5 905.2,946.2 905.3,944.8 905.3,943.5 905.4,942.3 905.4,941.0 905.5,939.8 905.5,938.7 905.6,937.5 905.6,936.4 905.7,935.2 905.7,934.2 905.8,933.1 905.8,932.0 905.9,931.0 905.9,930.0 905.9,929.0 906.0,928.0 906.0,927.0 906.1,926.1 906.1,925.2 906.2,924.3 906.2,923.4 906.3,922.5 906.3,921.6 906.4,920.7 906.4,919.9 906.5,919.1 906.5,918.2 906.6,917.4 906.6,916.6 906.7,915.8 906.7,915.1 906.7,915.1 907.0,911.2 907.2,907.5 907.5,904.1 907.7,900.9 908.0,897.9 908.2,895.0 908.5,892.3 908.7,889.7 909.0,887.2 909.2,884.9 909.4,882.6 909.7,880.5 909.9,878.4 910.2,876.4 910.4,874.5 910.7,872.7 910.9,870.9 911.2,869.2 911.4,867.6 911.7,866.0 911.9,864.4 912.2,863.0 912.4,861.5 912.7,860.1 912.9,858.8 913.2,857.4 913.4,856.2 913.7,854.9 913.9,853.7 914.2,852.5 914.4,851.4 914.7,850.3 914.9,849.2 915.2,848.1 915.4,847.1 915.7,846.1 915.9,845.1 916.2,844.1 916.4,843.2 916.7,842.3 916.9,841.4 917.2,840.5 917.4,839.6 917.7,838.8 917.9,838.0 918.2,837.2 918.4,836.4 918.7,835.6 918.9,834.8 919.2,834.1 919.4,833.4 919.7,832.6 919.9,831.9 920.2,831.3 920.4,830.6 920.7,829.9 920.9,829.3 921.2,828.6 921.4,828.0 921.6,827.4 921.9,826.8 922.1,826.2 922.4,825.6 922.6,825.0 922.9,824.4 923.1,823.9 923.4,823.3 923.6,822.8 923.9,822.2 924.1,821.7 924.4,821.2 924.6,820.7 924.9,820.2 925.1,819.7 925.4,819.2 925.6,818.7 925.9,818.2 926.1,817.8 926.4,817.3 926.4,817.3 929.0,812.8 931.7,808.8 934.4,805.3 937.0,802.2 939.7,799.4 942.4,796.9 945.0,794.6 947.7,792.5 950.3,790.6 953.0,788.8 955.7,787.1 958.3,785.6 961.0,784.2 963.7,782.8 966.3,781.6 969.0,780.4 971.6,779.3 974.3,778.2 977.0,777.2 979.6,776.3 982.3,775.4 985.0,774.5 987.6,773.7 990.3,772.9 992.9,772.2 995.6,771.5 998.3,770.8 1000.9,770.2 1003.6,769.5 1006.3,768.9 1008.9,768.4 1011.6,767.8 1014.2,767.3 1016.9,766.8 1019.6,766.3 1022.2,765.8 1024.9,765.3 1027.6,764.9 1030.2,764.4 1032.9,764.0 1035.5,763.6 1038.2,763.2 1040.9,762.8 1043.5,762.4 1046.2,762.1 1048.9,761.7 1051.5,761.4 1054.2,761.1 1056.8,760.7 1059.5,760.4 1062.2,760.1 1064.8,759.8 1067.5,759.5 1070.2,759.2 1072.8,759.0 1075.5,758.7 1078.1,758.4 1080.8,758.2 1083.5,757.9 1086.1,757.7 1088.8,757.4 1091.5,757.2 1094.1,757.0 1096.8,756.7 1099.4,756.5 1102.1,756.3 1104.8,756.1 1107.4,755.9 1110.1,755.7 1112.7,755.5 1115.4,755.3 1118.1,755.1 1120.7,754.9 1123.4,754.7 1126.1,754.5 1128.7,754.4 1131.4,754.2 1134.0,754.0 1136.7,753.8 1139.4,753.7 1142.0,753.5 1144.7,753.4 1147.4,753.2 1150.0,753.0 1152.7,752.9 1155.3,752.7 1158.0,752.6 1160.7,752.5 1163.3,752.3 1166.0,752.2 1168.7,752.0 1171.3,751.9 1174.0,751.8 1176.6,751.6 1179.3,751.5 1182.0,751.4 1184.6,751.3 1187.3,751.1 1190.0,751.0 1192.6,750.9 1195.3,750.8 1197.9,750.7 1200.6,750.5 1203.3,750.4 1205.9,750.3 1208.6,750.2 1211.3,750.1 1213.9,750.0 1216.6,749.9 1219.2,749.8 1221.9,749.7 1224.6,749.6 1227.2,749.5 1229.9,749.4 1232.6,749.3 1235.2,749.2 1237.9,749.1 1240.5,749.0 1243.2,748.9 1245.9,748.8 1248.5,748.7 1251.2,748.6 1253.9,748.6 1256.5,748.5 1259.2,748.4 1261.8,748.3 1264.5,748.2 1267.2,748.1 1269.8,748.1 1272.5,748.0 1275.2,747.9 1277.8,747.8 1280.5,747.7 1283.1,747.7 1285.8,747.6 1288.5,747.5 1291.1,747.4 1293.8,747.4 1296.5,747.3" fill="none" stroke="#0000ff" stroke-width="2.2" stroke-linejoin="round"/>
<polyline points="903.9,1020.3 903.9,1017.1 904.0,1013.5 904.0,1009.8 904.1,1006.1 904.1,1002.3 904.2,998.7 904.2,995.0 904.3,991.4 904.3,987.8 904.4,984.3 904.4,980.9 904.5,977.5 904.5,974.2 904.6,970.9 904.6,967.7 904.7,964.6 904.7,961.5 904.8,958.5 904.8,955.5 904.9,952.6 904.9,949.7 904.9,947.0 905.0,944.2 905.0,941.5 905.1,938.9 905.1,936.3 905.2,933.8 905.2,931.3 905.3,928.9 905.3,926.5 905.4,924.1 905.4,921.9 905.5,919.6 905.5,917.4 905.6,915.2 905.6,913.1 905.7,911.0 905.7,909.0 905.8,907.0 905.8,905.0 905.9,903.1 905.9,901.2 905.9,899.3 906.0,897.5 906.0,895.7 906.1,893.9 906.1,892.2 906.2,890.5 906.2,888.8 906.3,887.1 906.3,885.5 906.4,883.9 906.4,882.4 906.5,880.8 906.5,879.3 906.6,877.8 906.6,876.4 906.7,874.9 906.7,873.5 906.7,873.5 907.0,866.5 907.2,860.1 907.5,854.1 907.7,848.6 908.0,843.5 908.2,838.7 908.5,834.3 908.7,830.1 909.0,826.3 909.2,822.7 909.4,819.3 909.7,816.0 909.9,813.0 910.2,810.2 910.4,807.5 910.7,804.9 910.9,802.5 911.2,800.2 911.4,798.1 911.7,796.0 911.9,794.0 912.2,792.2 912.4,790.4 912.7,788.7 912.9,787.0 913.2,785.5 913.4,784.0 913.7,782.5 913.9,781.1 914.2,779.8 914.4,778.6 914.7,777.3 914.9,776.2 915.2,775.0 915.4,773.9 915.7,772.9 915.9,771.9 916.2,770.9 916.4,769.9 916.7,769.0 916.9,768.1 917.2,767.3 917.4,766.5 917.7,765.7 917.9,764.9 918.2,764.1 918.4,763.4 918.7,762.7 918.9,762.0 919.2,761.3 919.4,760.7 919.7,760.1 919.9,759.5 920.2,758.9 920.4,758.3 920.7,757.7 920.9,757.2 921.2,756.6 921.4,756.1 921.6,755.6 921.9,755.1 922.1,754.6 922.4,754.2 922.6,753.7 922.9,753.3 923.1,752.8 923.4,752.4 923.6,752.0 923.9,751.6 924.1,751.2 924.4,750.8 924.6,750.4 924.9,750.0 925.1,749.7 925.4,749.3 925.6,749.0 925.9,748.6 926.1,748.3 926.4,748.0 926.4,748.0 928.7,745.3 931.0,743.0 933.3,741.1 935.6,739.4 937.9,738.0 940.1,736.7 942.4,735.6 944.7,734.6 947.0,733.7 949.3,732.9 951.6,732.2 953.9,731.5 956.2,730.9 958.5,730.4 960.8,729.9 963.1,729.4 965.4,729.0 967.7,728.6 970.0,728.2 972.3,727.9 974.6,727.6 976.9,727.3 979.2,727.0 981.4,726.7 983.7,726.5 986.0,726.2 988.3,726.0 990.6,725.8 992.9,725.6 995.2,725.4 997.5,725.2 999.8,725.0 1002.1,724.9 1004.4,724.7 1006.7,724.6 1009.0,724.4 1011.3,724.3 1013.6,724.2 1015.9,724.1 1018.2,723.9 1020.5,723.8 1022.7,723.7 1025.0,723.6 1027.3,723.5 1029.6,723.4 1031.9,723.3 1034.2,723.2 1036.5,723.1 1038.8,723.0 1041.1,723.0 1043.4,722.9 1045.7,722.8 1048.0,722.7 1050.3,722.7 1052.6,722.6 1054.9,722.5 1057.2,722.5 1059.5,722.4 1061.8,722.3 1064.0,722.3 1066.3,722.2 1068.6,722.2 1070.9,722.1 1073.2,722.1 1075.5,722.0 1077.8,722.0 1080.1,721.9 1082.4,721.9 1084.7,721.8 1087.0,721.8 1089.3,721.7 1091.6,721.7 1093.9,721.7 1096.2,721.6 1098.5,721.6 1100.8,721.5 1103.1,721.5 1105.4,721.5 1107.6,721.4 1109.9,721.4 1112.2,721.4 1114.5,721.3 1116.8,721.3 1119.1,721.3 1121.4,721.2 1123.7,721.2 1126.0,721.2 1128.3,721.1 1130.6,721.1 1132.9,721.1 1135.2,721.1 1137.5,721.0 1139.8,721.0 1142.1,721.0 1144.4,721.0 1146.7,720.9 1148.9,720.9 1151.2,720.9 1153.5,720.9 1155.8,720.8 1158.1,720.8 1160.4,720.8 1162.7,720.8 1165.0,720.7 1167.3,720.7 1169.6,720.7 1171.9,720.7 1174.2,720.7 1176.5,720.6 1178.8,720.6 1181.1,720.6 1183.4,720.6 1185.7,720.6 1188.0,720.6 1190.2,720.5 1192.5,720.5 1194.8,720.5 1197.1,720.5 1199.4,720.5 1201.7,720.5 1204.0,720.4 1206.3,720.4 1208.6,720.4 1210.9,720.4 1213.2,720.4 1215.5,720.4 1217.8,720.3 1220.1,720.3 1222.4,720.3 1224.7,720.3 1227.0,720.3 1229.3,720.3 1231.5,720.3 1233.8,720.3 1236.1,720.2 1238.4,720.2 1240.7,720.2 1243.0,720.2 1245.3,720.2" fill="none" stroke="#00c000" stroke-width="1.8" stroke-linejoin="round"/>
<rect x="531" y="1204" width="562.1" height="401" fill="none" stroke="#000" stroke-width="2"/>
<path d="M524.3 1605H531 M524.3 1524.8H531 M524.3 1444.6H531 M524.3 1364.4H531 M524.3 1284.2H531 M524.3 1204H531 M531 1605V1611.2 M643.42 1605V1611.2 M755.84 1605V1611.2 M868.26 1605V1611.2 M980.68 1605V1611.2 M1093.1 1605V1611.2" stroke="#000" stroke-width="2" fill="none"/>
<g font-family="&quot;Liberation Serif&quot;, serif" font-weight="bold" font-size="34.5"><text x="509.3" y="1616.7" text-anchor="end">0</text><text x="509.3" y="1536.5" text-anchor="end">50</text><text x="509.3" y="1456.3" text-anchor="end">100</text><text x="509.3" y="1376.1" text-anchor="end">150</text><text x="509.3" y="1295.9" text-anchor="end">200</text><text x="509.3" y="1215.7" text-anchor="end">250</text><text x="531.5" y="1658.9" text-anchor="middle">0</text><text x="643.92" y="1658.9" text-anchor="middle">200</text><text x="756.34" y="1658.9" text-anchor="middle">400</text><text x="868.76" y="1658.9" text-anchor="middle">600</text><text x="981.18" y="1658.9" text-anchor="middle">800</text><text x="1093.6" y="1658.9" text-anchor="middle">1000</text></g>
<g font-family="&quot;Liberation Serif&quot;, serif" font-weight="bold"><text transform="translate(715.15,1707) scale(0.86,1)" font-style="italic" font-size="45" stroke="#000" stroke-width="0.8">C</text><text x="742.45" y="1716" font-style="italic" font-size="38" stroke="#000" stroke-width="0.5">e</text><text x="906.85" y="1707" font-size="45.4" text-anchor="end">(mg/L)</text></g>
<g transform="translate(428,1406) rotate(-90)" font-family="&quot;Liberation Serif&quot;, serif" font-weight="bold"><text transform="translate(-94,0) scale(0.9,1)" font-style="italic" font-size="45" stroke="#000" stroke-width="0.8">Q</text><text x="-62" y="9.5" font-style="italic" font-size="38" stroke="#000" stroke-width="0.5">e</text><text x="94.4" y="0" font-size="45.4" text-anchor="end">(mg/g)</text></g>
<text x="374.8" y="1205.9" font-family="&quot;Liberation Serif&quot;, serif" font-weight="bold" font-size="50">(e)</text>
<circle cx="941.5" cy="1470" r="8.25" fill="#00c000" stroke="#000" stroke-width="1.8"/>
<text x="1072.6" y="1486.3" text-anchor="end" font-family="&quot;Liberation Serif&quot;, serif" font-size="35">30<tspan font-size="33" dy="-7.3">o</tspan><tspan dy="7.3">C</tspan></text>
<circle cx="941.5" cy="1519.9" r="8.1" fill="#0000ff" stroke="#000" stroke-width="2.2"/>
<text x="1072.6" y="1536.2" text-anchor="end" font-family="&quot;Liberation Serif&quot;, serif" font-size="35">40<tspan font-size="33" dy="-7.3">o</tspan><tspan dy="7.3">C</tspan></text>
<circle cx="941.5" cy="1569.8" r="8.1" fill="#ff0000" stroke="#000" stroke-width="2.2"/>
<text x="1072.6" y="1586.1" text-anchor="end" font-family="&quot;Liberation Serif&quot;, serif" font-size="35">50<tspan font-size="33" dy="-7.3">o</tspan><tspan dy="7.3">C</tspan></text>
<circle cx="531.0" cy="1605.0" r="8.3" fill="#00c000" stroke="#000" stroke-width="1.8"/>
<circle cx="531.6" cy="1576.9" r="8.3" fill="#00c000" stroke="#000" stroke-width="1.8"/>
<circle cx="532.0" cy="1549.7" r="8.3" fill="#00c000" stroke="#000" stroke-width="1.8"/>
<circle cx="532.7" cy="1492.7" r="8.3" fill="#00c000" stroke="#000" stroke-width="1.8"/>
<circle cx="534.0" cy="1440.6" r="8.3" fill="#00c000" stroke="#000" stroke-width="1.8"/>
<circle cx="538.2" cy="1382.4" r="8.3" fill="#00c000" stroke="#000" stroke-width="1.8"/>
<circle cx="539.2" cy="1385.4" r="8.3" fill="#00c000" stroke="#000" stroke-width="1.8"/>
<circle cx="554.9" cy="1340.7" r="8.3" fill="#00c000" stroke="#000" stroke-width="1.8"/>
<circle cx="577.8" cy="1349.2" r="8.3" fill="#00c000" stroke="#000" stroke-width="1.8"/>
<circle cx="645.0" cy="1316.6" r="8.3" fill="#00c000" stroke="#000" stroke-width="1.8"/>
<circle cx="635.9" cy="1313.2" r="8.3" fill="#00c000" stroke="#000" stroke-width="1.8"/>
<circle cx="718.9" cy="1290.6" r="8.3" fill="#00c000" stroke="#000" stroke-width="1.8"/>
<circle cx="759.9" cy="1302.3" r="8.3" fill="#00c000" stroke="#000" stroke-width="1.8"/>
<circle cx="872.9" cy="1289.2" r="8.3" fill="#00c000" stroke="#000" stroke-width="1.8"/>
<circle cx="866.8" cy="1289.5" r="8.3" fill="#00c000" stroke="#000" stroke-width="1.8"/>
<circle cx="531.0" cy="1605.0" r="8.4" fill="#0000ff" stroke="#000" stroke-width="2.2"/>
<circle cx="531.8" cy="1576.1" r="8.4" fill="#0000ff" stroke="#000" stroke-width="2.2"/>
<circle cx="532.1" cy="1550.8" r="8.4" fill="#0000ff" stroke="#000" stroke-width="2.2"/>
<circle cx="533.0" cy="1493.5" r="8.4" fill="#0000ff" stroke="#000" stroke-width="2.2"/>
<circle cx="539.1" cy="1385.9" r="8.4" fill="#0000ff" stroke="#000" stroke-width="2.2"/>
<circle cx="547.6" cy="1390.4" r="8.4" fill="#0000ff" stroke="#000" stroke-width="2.2"/>
<circle cx="551.4" cy="1453.4" r="8.4" fill="#0000ff" stroke="#000" stroke-width="2.2"/>
<circle cx="595.2" cy="1356.2" r="8.4" fill="#0000ff" stroke="#000" stroke-width="2.2"/>
<circle cx="644.6" cy="1373.2" r="8.4" fill="#0000ff" stroke="#000" stroke-width="2.2"/>
<circle cx="697.7" cy="1336.0" r="8.4" fill="#0000ff" stroke="#000" stroke-width="2.2"/>
<circle cx="752.6" cy="1353.2" r="8.4" fill="#0000ff" stroke="#000" stroke-width="2.2"/>
<circle cx="803.2" cy="1333.6" r="8.4" fill="#0000ff" stroke="#000" stroke-width="2.2"/>
<circle cx="828.0" cy="1341.3" r="8.4" fill="#0000ff" stroke="#000" stroke-width="2.2"/>
<circle cx="915.9" cy="1315.0" r="8.4" fill="#0000ff" stroke="#000" stroke-width="2.2"/>
<circle cx="922.8" cy="1319.6" r="8.4" fill="#0000ff" stroke="#000" stroke-width="2.2"/>
<circle cx="531.0" cy="1605.0" r="8.4" fill="#ff0000" stroke="#000" stroke-width="2.2"/>
<circle cx="532.0" cy="1572.4" r="8.4" fill="#ff0000" stroke="#000" stroke-width="2.2"/>
<circle cx="532.1" cy="1548.7" r="8.4" fill="#ff0000" stroke="#000" stroke-width="2.2"/>
<circle cx="534.1" cy="1493.5" r="8.4" fill="#ff0000" stroke="#000" stroke-width="2.2"/>
<circle cx="532.8" cy="1492.4" r="8.4" fill="#ff0000" stroke="#000" stroke-width="2.2"/>
<circle cx="547.3" cy="1447.3" r="8.4" fill="#ff0000" stroke="#000" stroke-width="2.2"/>
<circle cx="547.0" cy="1449.9" r="8.4" fill="#ff0000" stroke="#000" stroke-width="2.2"/>
<circle cx="570.7" cy="1391.7" r="8.4" fill="#ff0000" stroke="#000" stroke-width="2.2"/>
<circle cx="576.8" cy="1392.5" r="8.4" fill="#ff0000" stroke="#000" stroke-width="2.2"/>
<circle cx="703.9" cy="1385.6" r="8.4" fill="#ff0000" stroke="#000" stroke-width="2.2"/>
<circle cx="730.5" cy="1394.4" r="8.4" fill="#ff0000" stroke="#000" stroke-width="2.2"/>
<circle cx="829.8" cy="1372.6" r="8.4" fill="#ff0000" stroke="#000" stroke-width="2.2"/>
<circle cx="856.1" cy="1384.5" r="8.4" fill="#ff0000" stroke="#000" stroke-width="2.2"/>
<circle cx="859.4" cy="1347.4" r="8.4" fill="#ff0000" stroke="#000" stroke-width="2.2"/>
<circle cx="856.1" cy="1349.6" r="8.4" fill="#ff0000" stroke="#000" stroke-width="2.2"/>
<circle cx="1024.5" cy="1348.0" r="8.4" fill="#ff0000" stroke="#000" stroke-width="2.2"/>
<circle cx="1017.0" cy="1348.8" r="8.4" fill="#ff0000" stroke="#000" stroke-width="2.2"/>
<polyline points="531.0,1605.0 531.0,1583.2 531.1,1574.7 531.1,1568.6 531.2,1563.6 531.2,1559.3 531.3,1555.6 531.3,1552.3 531.4,1549.3 531.4,1546.6 531.5,1544.0 531.5,1541.7 531.6,1539.5 531.6,1537.4 531.7,1535.4 531.7,1533.6 531.8,1531.8 531.8,1530.1 531.9,1528.5 531.9,1527.0 532.0,1525.5 532.0,1524.1 532.0,1522.7 532.1,1521.4 532.1,1520.2 532.2,1518.9 532.2,1517.7 532.3,1516.6 532.3,1515.5 532.4,1514.4 532.4,1513.4 532.5,1512.3 532.5,1511.3 532.6,1510.4 532.6,1509.4 532.7,1508.5 532.7,1507.6 532.8,1506.8 532.8,1505.9 532.9,1505.1 532.9,1504.3 533.0,1503.5 533.0,1502.7 533.0,1501.9 533.1,1501.2 533.1,1500.4 533.2,1499.7 533.2,1499.0 533.3,1498.3 533.3,1497.7 533.4,1497.0 533.4,1496.3 533.5,1495.7 533.5,1495.1 533.6,1494.4 533.6,1493.8 533.7,1493.2 533.7,1492.7 533.8,1492.1 533.8,1491.5 533.8,1491.5 534.1,1488.7 534.3,1486.0 534.6,1483.6 534.8,1481.3 535.1,1479.2 535.3,1477.2 535.6,1475.3 535.8,1473.5 536.1,1471.7 536.3,1470.1 536.5,1468.6 536.8,1467.1 537.0,1465.7 537.3,1464.3 537.5,1463.0 537.8,1461.8 538.0,1460.6 538.3,1459.4 538.5,1458.3 538.8,1457.2 539.0,1456.2 539.3,1455.2 539.5,1454.2 539.8,1453.2 540.0,1452.3 540.3,1451.4 540.5,1450.6 540.8,1449.7 541.0,1448.9 541.3,1448.1 541.5,1447.4 541.8,1446.6 542.0,1445.9 542.3,1445.1 542.5,1444.5 542.8,1443.8 543.0,1443.1 543.3,1442.5 543.5,1441.8 543.8,1441.2 544.0,1440.6 544.3,1440.0 544.5,1439.4 544.8,1438.8 545.0,1438.3 545.3,1437.7 545.5,1437.2 545.8,1436.7 546.0,1436.2 546.3,1435.7 546.5,1435.2 546.8,1434.7 547.0,1434.2 547.3,1433.7 547.5,1433.3 547.8,1432.8 548.0,1432.4 548.3,1431.9 548.5,1431.5 548.8,1431.1 549.0,1430.7 549.3,1430.2 549.5,1429.8 549.7,1429.4 550.0,1429.0 550.2,1428.7 550.5,1428.3 550.7,1427.9 551.0,1427.5 551.2,1427.2 551.5,1426.8 551.7,1426.5 552.0,1426.1 552.2,1425.8 552.5,1425.4 552.7,1425.1 553.0,1424.8 553.2,1424.4 553.5,1424.1 553.5,1424.1 556.9,1420.1 560.3,1416.7 563.7,1413.8 567.1,1411.2 570.5,1408.8 573.9,1406.7 577.2,1404.8 580.6,1403.1 584.0,1401.5 587.4,1400.0 590.8,1398.7 594.2,1397.4 597.6,1396.2 601.0,1395.1 604.4,1394.0 607.8,1393.0 611.2,1392.0 614.6,1391.1 618.0,1390.3 621.4,1389.5 624.8,1388.7 628.2,1387.9 631.6,1387.2 635.0,1386.5 638.4,1385.8 641.7,1385.2 645.1,1384.6 648.5,1384.0 651.9,1383.4 655.3,1382.8 658.7,1382.3 662.1,1381.8 665.5,1381.2 668.9,1380.7 672.3,1380.3 675.7,1379.8 679.1,1379.3 682.5,1378.9 685.9,1378.4 689.3,1378.0 692.7,1377.6 696.1,1377.2 699.5,1376.8 702.9,1376.4 706.3,1376.0 709.6,1375.6 713.0,1375.3 716.4,1374.9 719.8,1374.6 723.2,1374.2 726.6,1373.9 730.0,1373.5 733.4,1373.2 736.8,1372.9 740.2,1372.6 743.6,1372.2 747.0,1371.9 750.4,1371.6 753.8,1371.3 757.2,1371.0 760.6,1370.7 764.0,1370.5 767.4,1370.2 770.8,1369.9 774.1,1369.6 777.5,1369.3 780.9,1369.1 784.3,1368.8 787.7,1368.6 791.1,1368.3 794.5,1368.0 797.9,1367.8 801.3,1367.5 804.7,1367.3 808.1,1367.0 811.5,1366.8 814.9,1366.6 818.3,1366.3 821.7,1366.1 825.1,1365.9 828.5,1365.6 831.9,1365.4 835.3,1365.2 838.7,1365.0 842.0,1364.7 845.4,1364.5 848.8,1364.3 852.2,1364.1 855.6,1363.9 859.0,1363.7 862.4,1363.4 865.8,1363.2 869.2,1363.0 872.6,1362.8 876.0,1362.6 879.4,1362.4 882.8,1362.2 886.2,1362.0 889.6,1361.8 893.0,1361.6 896.4,1361.4 899.8,1361.2 903.2,1361.0 906.5,1360.9 909.9,1360.7 913.3,1360.5 916.7,1360.3 920.1,1360.1 923.5,1359.9 926.9,1359.7 930.3,1359.6 933.7,1359.4 937.1,1359.2 940.5,1359.0 943.9,1358.8 947.3,1358.7 950.7,1358.5 954.1,1358.3 957.5,1358.1 960.9,1358.0 964.3,1357.8 967.7,1357.6 971.0,1357.4 974.4,1357.3 977.8,1357.1 981.2,1356.9 984.6,1356.8 988.0,1356.6 991.4,1356.4 994.8,1356.3 998.2,1356.1 1001.6,1355.9 1005.0,1355.8 1008.4,1355.6 1011.8,1355.5 1015.2,1355.3 1018.6,1355.1 1022.0,1355.0 1025.4,1354.8" fill="none" stroke="#ff0000" stroke-width="2.2" stroke-linejoin="round"/>
<polyline points="531.0,1605.0 531.0,1555.7 531.1,1544.6 531.1,1537.3 531.2,1531.6 531.2,1527.1 531.3,1523.2 531.3,1519.8 531.4,1516.8 531.4,1514.1 531.5,1511.6 531.5,1509.3 531.6,1507.2 531.6,1505.3 531.7,1503.4 531.7,1501.7 531.8,1500.1 531.8,1498.5 531.9,1497.1 531.9,1495.7 532.0,1494.4 532.0,1493.1 532.0,1491.9 532.1,1490.7 532.1,1489.6 532.2,1488.5 532.2,1487.4 532.3,1486.4 532.3,1485.4 532.4,1484.5 532.4,1483.5 532.5,1482.7 532.5,1481.8 532.6,1480.9 532.6,1480.1 532.7,1479.3 532.7,1478.5 532.8,1477.8 532.8,1477.0 532.9,1476.3 532.9,1475.6 533.0,1474.9 533.0,1474.2 533.0,1473.6 533.1,1472.9 533.1,1472.3 533.2,1471.7 533.2,1471.1 533.3,1470.5 533.3,1469.9 533.4,1469.3 533.4,1468.7 533.5,1468.2 533.5,1467.6 533.6,1467.1 533.6,1466.6 533.7,1466.1 533.7,1465.6 533.8,1465.1 533.8,1464.6 533.8,1464.6 534.1,1462.1 534.3,1459.8 534.6,1457.7 534.8,1455.8 535.1,1453.9 535.3,1452.1 535.6,1450.5 535.8,1448.9 536.1,1447.4 536.3,1446.0 536.5,1444.6 536.8,1443.3 537.0,1442.1 537.3,1440.9 537.5,1439.7 537.8,1438.6 538.0,1437.6 538.3,1436.5 538.5,1435.5 538.8,1434.6 539.0,1433.6 539.3,1432.7 539.5,1431.8 539.8,1431.0 540.0,1430.1 540.3,1429.3 540.5,1428.5 540.8,1427.8 541.0,1427.0 541.3,1426.3 541.5,1425.6 541.8,1424.9 542.0,1424.2 542.3,1423.5 542.5,1422.9 542.8,1422.3 543.0,1421.6 543.3,1421.0 543.5,1420.4 543.8,1419.8 544.0,1419.3 544.3,1418.7 544.5,1418.2 544.8,1417.6 545.0,1417.1 545.3,1416.6 545.5,1416.0 545.8,1415.5 546.0,1415.1 546.3,1414.6 546.5,1414.1 546.8,1413.6 547.0,1413.2 547.3,1412.7 547.5,1412.3 547.8,1411.8 548.0,1411.4 548.3,1410.9 548.5,1410.5 548.8,1410.1 549.0,1409.7 549.3,1409.3 549.5,1408.9 549.7,1408.5 550.0,1408.1 550.2,1407.7 550.5,1407.4 550.7,1407.0 551.0,1406.6 551.2,1406.3 551.5,1405.9 551.7,1405.6 552.0,1405.2 552.2,1404.9 552.5,1404.5 552.7,1404.2 553.0,1403.8 553.2,1403.5 553.5,1403.2 553.5,1403.2 556.1,1399.9 558.8,1397.0 561.5,1394.4 564.1,1392.0 566.8,1389.8 569.5,1387.8 572.1,1385.9 574.8,1384.1 577.5,1382.5 580.1,1380.9 582.8,1379.4 585.4,1378.1 588.1,1376.7 590.8,1375.5 593.4,1374.3 596.1,1373.1 598.8,1372.0 601.4,1371.0 604.1,1370.0 606.7,1369.0 609.4,1368.1 612.1,1367.2 614.7,1366.3 617.4,1365.4 620.1,1364.6 622.7,1363.8 625.4,1363.1 628.0,1362.3 630.7,1361.6 633.4,1360.9 636.0,1360.2 638.7,1359.5 641.4,1358.9 644.0,1358.2 646.7,1357.6 649.3,1357.0 652.0,1356.4 654.7,1355.9 657.3,1355.3 660.0,1354.7 662.7,1354.2 665.3,1353.7 668.0,1353.1 670.7,1352.6 673.3,1352.1 676.0,1351.6 678.6,1351.2 681.3,1350.7 684.0,1350.2 686.6,1349.8 689.3,1349.3 692.0,1348.9 694.6,1348.4 697.3,1348.0 699.9,1347.6 702.6,1347.2 705.3,1346.8 707.9,1346.4 710.6,1346.0 713.3,1345.6 715.9,1345.2 718.6,1344.8 721.2,1344.4 723.9,1344.1 726.6,1343.7 729.2,1343.4 731.9,1343.0 734.6,1342.6 737.2,1342.3 739.9,1342.0 742.5,1341.6 745.2,1341.3 747.9,1341.0 750.5,1340.6 753.2,1340.3 755.9,1340.0 758.5,1339.7 761.2,1339.4 763.9,1339.1 766.5,1338.8 769.2,1338.5 771.8,1338.2 774.5,1337.9 777.2,1337.6 779.8,1337.3 782.5,1337.0 785.2,1336.7 787.8,1336.4 790.5,1336.2 793.1,1335.9 795.8,1335.6 798.5,1335.3 801.1,1335.1 803.8,1334.8 806.5,1334.5 809.1,1334.3 811.8,1334.0 814.4,1333.8 817.1,1333.5 819.8,1333.3 822.4,1333.0 825.1,1332.8 827.8,1332.5 830.4,1332.3 833.1,1332.0 835.8,1331.8 838.4,1331.5 841.1,1331.3 843.7,1331.1 846.4,1330.8 849.1,1330.6 851.7,1330.4 854.4,1330.1 857.1,1329.9 859.7,1329.7 862.4,1329.5 865.0,1329.2 867.7,1329.0 870.4,1328.8 873.0,1328.6 875.7,1328.4 878.4,1328.2 881.0,1327.9 883.7,1327.7 886.3,1327.5 889.0,1327.3 891.7,1327.1 894.3,1326.9 897.0,1326.7 899.7,1326.5 902.3,1326.3 905.0,1326.1 907.6,1325.9 910.3,1325.7 913.0,1325.5 915.6,1325.3 918.3,1325.1 921.0,1324.9 923.6,1324.7" fill="none" stroke="#0000ff" stroke-width="2.2" stroke-linejoin="round"/>
<polyline points="531.0,1605.0 531.0,1595.3 531.1,1588.0 531.1,1581.7 531.2,1575.9 531.2,1570.6 531.3,1565.7 531.3,1561.0 531.4,1556.6 531.4,1552.4 531.5,1548.5 531.5,1544.7 531.6,1541.1 531.6,1537.6 531.7,1534.2 531.7,1531.0 531.8,1528.0 531.8,1525.0 531.9,1522.1 531.9,1519.3 532.0,1516.6 532.0,1514.0 532.0,1511.5 532.1,1509.0 532.1,1506.7 532.2,1504.4 532.2,1502.1 532.3,1499.9 532.3,1497.8 532.4,1495.7 532.4,1493.7 532.5,1491.7 532.5,1489.8 532.6,1487.9 532.6,1486.1 532.7,1484.3 532.7,1482.6 532.8,1480.9 532.8,1479.2 532.9,1477.6 532.9,1476.0 533.0,1474.4 533.0,1472.9 533.0,1471.4 533.1,1469.9 533.1,1468.5 533.2,1467.1 533.2,1465.7 533.3,1464.4 533.3,1463.0 533.4,1461.7 533.4,1460.5 533.5,1459.2 533.5,1458.0 533.6,1456.8 533.6,1455.6 533.7,1454.4 533.7,1453.2 533.8,1452.1 533.8,1451.0 533.8,1451.0 534.1,1445.5 534.3,1440.4 534.6,1435.7 534.8,1431.4 535.1,1427.4 535.3,1423.6 535.6,1420.1 535.8,1416.7 536.1,1413.6 536.3,1410.7 536.5,1407.9 536.8,1405.3 537.0,1402.8 537.3,1400.4 537.5,1398.2 537.8,1396.0 538.0,1394.0 538.3,1392.1 538.5,1390.2 538.8,1388.4 539.0,1386.7 539.3,1385.0 539.5,1383.5 539.8,1382.0 540.0,1380.5 540.3,1379.1 540.5,1377.7 540.8,1376.4 541.0,1375.2 541.3,1374.0 541.5,1372.8 541.8,1371.7 542.0,1370.6 542.3,1369.5 542.5,1368.5 542.8,1367.5 543.0,1366.5 543.3,1365.5 543.5,1364.6 543.8,1363.7 544.0,1362.9 544.3,1362.0 544.5,1361.2 544.8,1360.4 545.0,1359.7 545.3,1358.9 545.5,1358.2 545.8,1357.5 546.0,1356.8 546.3,1356.1 546.5,1355.4 546.8,1354.8 547.0,1354.1 547.3,1353.5 547.5,1352.9 547.8,1352.3 548.0,1351.7 548.3,1351.2 548.5,1350.6 548.8,1350.1 549.0,1349.6 549.3,1349.0 549.5,1348.5 549.7,1348.0 550.0,1347.5 550.2,1347.1 550.5,1346.6 550.7,1346.1 551.0,1345.7 551.2,1345.3 551.5,1344.8 551.7,1344.4 552.0,1344.0 552.2,1343.6 552.5,1343.2 552.7,1342.8 553.0,1342.4 553.2,1342.0 553.5,1341.6 553.5,1341.6 555.8,1338.5 558.1,1335.7 560.4,1333.4 562.7,1331.3 565.0,1329.4 567.3,1327.7 569.5,1326.2 571.8,1324.8 574.1,1323.6 576.4,1322.5 578.7,1321.4 581.0,1320.4 583.3,1319.5 585.6,1318.7 587.9,1317.9 590.2,1317.2 592.5,1316.5 594.8,1315.8 597.1,1315.2 599.4,1314.6 601.7,1314.1 604.0,1313.6 606.3,1313.1 608.6,1312.6 610.9,1312.2 613.2,1311.8 615.4,1311.3 617.7,1311.0 620.0,1310.6 622.3,1310.2 624.6,1309.9 626.9,1309.6 629.2,1309.2 631.5,1308.9 633.8,1308.6 636.1,1308.3 638.4,1308.1 640.7,1307.8 643.0,1307.5 645.3,1307.3 647.6,1307.1 649.9,1306.8 652.2,1306.6 654.5,1306.4 656.8,1306.2 659.0,1305.9 661.3,1305.7 663.6,1305.5 665.9,1305.3 668.2,1305.2 670.5,1305.0 672.8,1304.8 675.1,1304.6 677.4,1304.4 679.7,1304.3 682.0,1304.1 684.3,1304.0 686.6,1303.8 688.9,1303.6 691.2,1303.5 693.5,1303.4 695.8,1303.2 698.1,1303.1 700.4,1302.9 702.7,1302.8 704.9,1302.7 707.2,1302.5 709.5,1302.4 711.8,1302.3 714.1,1302.1 716.4,1302.0 718.7,1301.9 721.0,1301.8 723.3,1301.7 725.6,1301.5 727.9,1301.4 730.2,1301.3 732.5,1301.2 734.8,1301.1 737.1,1301.0 739.4,1300.9 741.7,1300.8 744.0,1300.7 746.3,1300.6 748.6,1300.5 750.8,1300.4 753.1,1300.3 755.4,1300.2 757.7,1300.1 760.0,1300.0 762.3,1299.9 764.6,1299.8 766.9,1299.7 769.2,1299.6 771.5,1299.6 773.8,1299.5 776.1,1299.4 778.4,1299.3 780.7,1299.2 783.0,1299.1 785.3,1299.1 787.6,1299.0 789.9,1298.9 792.2,1298.8 794.4,1298.7 796.7,1298.7 799.0,1298.6 801.3,1298.5 803.6,1298.4 805.9,1298.3 808.2,1298.3 810.5,1298.2 812.8,1298.1 815.1,1298.1 817.4,1298.0 819.7,1297.9 822.0,1297.8 824.3,1297.8 826.6,1297.7 828.9,1297.6 831.2,1297.6 833.5,1297.5 835.8,1297.4 838.1,1297.4 840.3,1297.3 842.6,1297.2 844.9,1297.2 847.2,1297.1 849.5,1297.0 851.8,1297.0 854.1,1296.9 856.4,1296.8 858.7,1296.8 861.0,1296.7 863.3,1296.6 865.6,1296.6 867.9,1296.5 870.2,1296.5 872.5,1296.4" fill="none" stroke="#00c000" stroke-width="1.8" stroke-linejoin="round"/>
</svg></body></html>
